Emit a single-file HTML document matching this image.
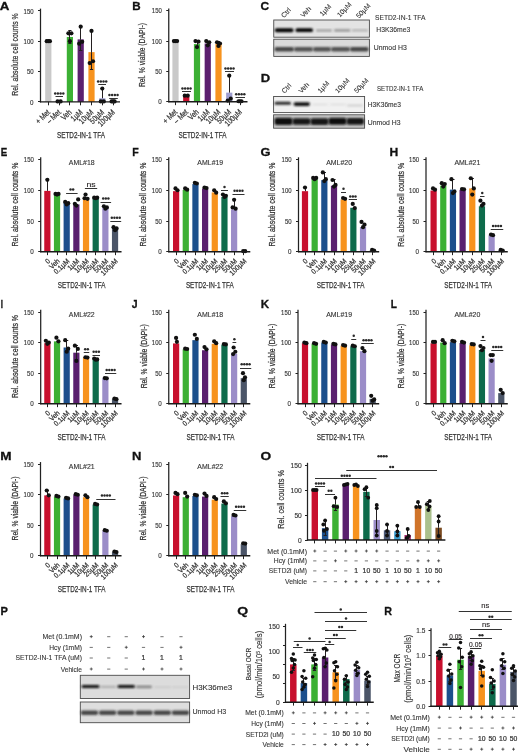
<!DOCTYPE html>
<html><head><meta charset="utf-8"><style>
html,body{margin:0;padding:0;background:#fff;width:520px;height:753px;overflow:hidden}
svg{display:block;font-family:"Liberation Sans",sans-serif;filter:blur(0.3px)}
</style></head><body>
<svg width="520" height="753" viewBox="0 0 520 753">
<defs><filter id="blur1" x="-20%" y="-50%" width="140%" height="200%"><feGaussianBlur stdDeviation="0.85"/></filter></defs>
<rect width="520" height="753" fill="#fff"/>
<text x="-0.22" y="10.40" font-size="11.4" font-weight="bold" fill="#111" stroke="#111" stroke-width="0.3" textLength="9.63" lengthAdjust="spacingAndGlyphs">A</text>
<line x1="40.50" y1="8.65" x2="40.50" y2="102.40" stroke="#222" stroke-width="1.25"/>
<line x1="38.00" y1="101.50" x2="40.50" y2="101.50" stroke="#222" stroke-width="1.0"/>
<line x1="38.00" y1="71.50" x2="40.50" y2="71.50" stroke="#222" stroke-width="1.0"/>
<line x1="38.00" y1="41.50" x2="40.50" y2="41.50" stroke="#222" stroke-width="1.0"/>
<line x1="38.00" y1="10.50" x2="40.50" y2="10.50" stroke="#222" stroke-width="1.0"/>
<text x="33.60" y="104.64" font-size="7.6" text-anchor="end" fill="#333" stroke="#333" stroke-width="0.15" textLength="3.50" lengthAdjust="spacingAndGlyphs">0</text>
<text x="33.60" y="74.29" font-size="7.6" text-anchor="end" fill="#333" stroke="#333" stroke-width="0.15" textLength="6.70" lengthAdjust="spacingAndGlyphs">50</text>
<text x="33.60" y="43.94" font-size="7.6" text-anchor="end" fill="#333" stroke="#333" stroke-width="0.15" textLength="10.00" lengthAdjust="spacingAndGlyphs">100</text>
<text x="33.60" y="13.59" font-size="7.6" text-anchor="end" fill="#333" stroke="#333" stroke-width="0.15" textLength="10.00" lengthAdjust="spacingAndGlyphs">150</text>
<text x="17.90" y="54.50" font-size="8.8" text-anchor="middle" fill="#333" stroke="#333" stroke-width="0.22" textLength="82.30" lengthAdjust="spacingAndGlyphs" transform="rotate(-90 17.90 54.50)">Rel. absolute cell counts %</text>
<rect x="45.20" y="41.20" width="6.20" height="60.70" fill="#c9c9c9"/>
<rect x="56.00" y="101.54" width="6.20" height="0.36" fill="#c8102e"/>
<rect x="66.80" y="36.95" width="6.20" height="64.95" fill="#3cb034"/>
<rect x="77.60" y="39.38" width="6.20" height="62.52" fill="#5a1f6e"/>
<rect x="88.40" y="52.13" width="6.20" height="49.77" fill="#f7931e"/>
<rect x="99.20" y="98.26" width="6.20" height="3.64" fill="#9e9ed0"/>
<rect x="110.00" y="101.60" width="6.20" height="0.30" fill="#4b5568"/>
<line x1="69.50" y1="36.95" x2="69.50" y2="30.88" stroke="#231f20" stroke-width="1.0"/>
<line x1="68.30" y1="30.50" x2="71.50" y2="30.50" stroke="#231f20" stroke-width="1.0"/>
<line x1="69.50" y1="36.95" x2="69.50" y2="43.02" stroke="#231f20" stroke-width="1.0"/>
<line x1="68.30" y1="43.50" x2="71.50" y2="43.50" stroke="#231f20" stroke-width="1.0"/>
<line x1="80.50" y1="39.38" x2="80.50" y2="26.63" stroke="#231f20" stroke-width="1.0"/>
<line x1="79.10" y1="26.50" x2="82.30" y2="26.50" stroke="#231f20" stroke-width="1.0"/>
<line x1="80.50" y1="39.38" x2="80.50" y2="50.31" stroke="#231f20" stroke-width="1.0"/>
<line x1="79.10" y1="50.50" x2="82.30" y2="50.50" stroke="#231f20" stroke-width="1.0"/>
<line x1="91.50" y1="52.13" x2="91.50" y2="30.88" stroke="#231f20" stroke-width="1.0"/>
<line x1="89.90" y1="30.50" x2="93.10" y2="30.50" stroke="#231f20" stroke-width="1.0"/>
<line x1="91.50" y1="52.13" x2="91.50" y2="69.12" stroke="#231f20" stroke-width="1.0"/>
<line x1="89.90" y1="69.50" x2="93.10" y2="69.50" stroke="#231f20" stroke-width="1.0"/>
<line x1="102.50" y1="98.26" x2="102.50" y2="88.55" stroke="#231f20" stroke-width="1.0"/>
<line x1="100.70" y1="88.50" x2="103.90" y2="88.50" stroke="#231f20" stroke-width="1.0"/>
<circle cx="46.70" cy="41.20" r="2.1" fill="#111"/>
<circle cx="48.30" cy="41.20" r="2.1" fill="#111"/>
<circle cx="49.90" cy="41.20" r="2.1" fill="#111"/>
<circle cx="57.60" cy="101.41" r="2.1" fill="#111"/>
<circle cx="60.60" cy="101.41" r="2.1" fill="#111"/>
<circle cx="68.40" cy="33.31" r="2.1" fill="#111"/>
<circle cx="71.40" cy="33.31" r="2.1" fill="#111"/>
<circle cx="69.90" cy="41.20" r="2.1" fill="#111"/>
<circle cx="80.70" cy="26.63" r="2.1" fill="#111"/>
<circle cx="79.20" cy="43.63" r="2.1" fill="#111"/>
<circle cx="82.20" cy="41.81" r="2.1" fill="#111"/>
<circle cx="91.50" cy="30.88" r="2.1" fill="#111"/>
<circle cx="89.70" cy="63.05" r="2.1" fill="#111"/>
<circle cx="93.00" cy="61.23" r="2.1" fill="#111"/>
<circle cx="102.30" cy="88.55" r="2.1" fill="#111"/>
<circle cx="100.80" cy="101.41" r="2.1" fill="#111"/>
<circle cx="103.80" cy="101.41" r="2.1" fill="#111"/>
<circle cx="111.60" cy="101.41" r="2.1" fill="#111"/>
<circle cx="113.10" cy="101.41" r="2.1" fill="#111"/>
<circle cx="114.60" cy="101.41" r="2.1" fill="#111"/>
<line x1="39.90" y1="101.90" x2="120.00" y2="101.90" stroke="#1a1a1a" stroke-width="1.4"/>
<line x1="48.50" y1="101.90" x2="48.50" y2="105.30" stroke="#222" stroke-width="1.0"/>
<line x1="59.50" y1="101.90" x2="59.50" y2="105.30" stroke="#222" stroke-width="1.0"/>
<line x1="69.50" y1="101.90" x2="69.50" y2="105.30" stroke="#222" stroke-width="1.0"/>
<line x1="80.50" y1="101.90" x2="80.50" y2="105.30" stroke="#222" stroke-width="1.0"/>
<line x1="91.50" y1="101.90" x2="91.50" y2="105.30" stroke="#222" stroke-width="1.0"/>
<line x1="102.50" y1="101.90" x2="102.50" y2="105.30" stroke="#222" stroke-width="1.0"/>
<line x1="113.50" y1="101.90" x2="113.50" y2="105.30" stroke="#222" stroke-width="1.0"/>
<text x="50.70" y="112.90" font-size="8.2" text-anchor="end" fill="#333" stroke="#333" stroke-width="0.22" textLength="16.59" lengthAdjust="spacingAndGlyphs" transform="rotate(-44 50.70 112.90)">+ Met</text>
<text x="61.50" y="112.90" font-size="8.2" text-anchor="end" fill="#333" stroke="#333" stroke-width="0.22" textLength="16.41" lengthAdjust="spacingAndGlyphs" transform="rotate(-44 61.50 112.90)">– Met</text>
<text x="72.30" y="112.90" font-size="8.2" text-anchor="end" fill="#333" stroke="#333" stroke-width="0.22" textLength="11.31" lengthAdjust="spacingAndGlyphs" transform="rotate(-44 72.30 112.90)">Veh</text>
<text x="83.10" y="112.90" font-size="8.2" text-anchor="end" fill="#333" stroke="#333" stroke-width="0.22" textLength="12.89" lengthAdjust="spacingAndGlyphs" transform="rotate(-44 83.10 112.90)">1µM</text>
<text x="93.90" y="112.90" font-size="8.2" text-anchor="end" fill="#333" stroke="#333" stroke-width="0.22" textLength="16.54" lengthAdjust="spacingAndGlyphs" transform="rotate(-44 93.90 112.90)">10µM</text>
<text x="104.70" y="112.90" font-size="8.2" text-anchor="end" fill="#333" stroke="#333" stroke-width="0.22" textLength="16.54" lengthAdjust="spacingAndGlyphs" transform="rotate(-44 104.70 112.90)">50µM</text>
<text x="115.50" y="112.90" font-size="8.2" text-anchor="end" fill="#333" stroke="#333" stroke-width="0.22" textLength="20.19" lengthAdjust="spacingAndGlyphs" transform="rotate(-44 115.50 112.90)">100µM</text>
<text x="80.95" y="138.00" font-size="9.1" text-anchor="middle" fill="#333" stroke="#333" stroke-width="0.25" textLength="48.10" lengthAdjust="spacingAndGlyphs">SETD2-IN-1 TFA</text>
<line x1="55.50" y1="96.50" x2="63.00" y2="96.50" stroke="#333" stroke-width="1.0"/>
<circle cx="55.20" cy="93.50" r="1.25" fill="#2a2a2a"/>
<circle cx="57.90" cy="93.50" r="1.25" fill="#2a2a2a"/>
<circle cx="60.60" cy="93.50" r="1.25" fill="#2a2a2a"/>
<circle cx="63.30" cy="93.50" r="1.25" fill="#2a2a2a"/>
<line x1="98.30" y1="84.50" x2="106.00" y2="84.50" stroke="#333" stroke-width="1.0"/>
<circle cx="98.10" cy="81.50" r="1.25" fill="#2a2a2a"/>
<circle cx="100.80" cy="81.50" r="1.25" fill="#2a2a2a"/>
<circle cx="103.50" cy="81.50" r="1.25" fill="#2a2a2a"/>
<circle cx="106.20" cy="81.50" r="1.25" fill="#2a2a2a"/>
<line x1="109.20" y1="98.50" x2="117.80" y2="98.50" stroke="#333" stroke-width="1.0"/>
<circle cx="109.45" cy="94.90" r="1.25" fill="#2a2a2a"/>
<circle cx="112.15" cy="94.90" r="1.25" fill="#2a2a2a"/>
<circle cx="114.85" cy="94.90" r="1.25" fill="#2a2a2a"/>
<circle cx="117.55" cy="94.90" r="1.25" fill="#2a2a2a"/>
<text x="132.15" y="10.40" font-size="11.4" font-weight="bold" fill="#111" stroke="#111" stroke-width="0.3" textLength="8.40" lengthAdjust="spacingAndGlyphs">B</text>
<line x1="168.75" y1="8.50" x2="168.75" y2="102.25" stroke="#222" stroke-width="1.25"/>
<line x1="166.25" y1="101.50" x2="168.75" y2="101.50" stroke="#222" stroke-width="1.0"/>
<line x1="166.25" y1="71.50" x2="168.75" y2="71.50" stroke="#222" stroke-width="1.0"/>
<line x1="166.25" y1="41.50" x2="168.75" y2="41.50" stroke="#222" stroke-width="1.0"/>
<line x1="166.25" y1="10.50" x2="168.75" y2="10.50" stroke="#222" stroke-width="1.0"/>
<text x="161.85" y="104.49" font-size="7.6" text-anchor="end" fill="#333" stroke="#333" stroke-width="0.15" textLength="3.50" lengthAdjust="spacingAndGlyphs">0</text>
<text x="161.85" y="74.14" font-size="7.6" text-anchor="end" fill="#333" stroke="#333" stroke-width="0.15" textLength="6.70" lengthAdjust="spacingAndGlyphs">50</text>
<text x="161.85" y="43.79" font-size="7.6" text-anchor="end" fill="#333" stroke="#333" stroke-width="0.15" textLength="10.00" lengthAdjust="spacingAndGlyphs">100</text>
<text x="161.85" y="13.44" font-size="7.6" text-anchor="end" fill="#333" stroke="#333" stroke-width="0.15" textLength="10.00" lengthAdjust="spacingAndGlyphs">150</text>
<text x="145.44" y="55.10" font-size="8.6" text-anchor="middle" fill="#333" stroke="#333" stroke-width="0.22" textLength="64.00" lengthAdjust="spacingAndGlyphs" transform="rotate(-90 145.44 55.10)">Rel. % viable (DAPI-)</text>
<rect x="172.40" y="41.05" width="6.20" height="60.70" fill="#c9c9c9"/>
<rect x="183.15" y="96.89" width="6.20" height="4.86" fill="#c8102e"/>
<rect x="193.90" y="44.09" width="6.20" height="57.66" fill="#3cb034"/>
<rect x="204.65" y="43.48" width="6.20" height="58.27" fill="#5a1f6e"/>
<rect x="215.40" y="44.09" width="6.20" height="57.66" fill="#f7931e"/>
<rect x="226.15" y="92.64" width="6.20" height="9.11" fill="#9e9ed0"/>
<rect x="236.90" y="101.45" width="6.20" height="0.30" fill="#4b5568"/>
<line x1="197.50" y1="44.09" x2="197.50" y2="41.05" stroke="#231f20" stroke-width="1.0"/>
<line x1="195.40" y1="41.50" x2="198.60" y2="41.50" stroke="#231f20" stroke-width="1.0"/>
<line x1="197.50" y1="44.09" x2="197.50" y2="47.12" stroke="#231f20" stroke-width="1.0"/>
<line x1="195.40" y1="47.50" x2="198.60" y2="47.50" stroke="#231f20" stroke-width="1.0"/>
<line x1="207.50" y1="43.48" x2="207.50" y2="41.05" stroke="#231f20" stroke-width="1.0"/>
<line x1="206.15" y1="41.50" x2="209.35" y2="41.50" stroke="#231f20" stroke-width="1.0"/>
<line x1="207.50" y1="43.48" x2="207.50" y2="45.91" stroke="#231f20" stroke-width="1.0"/>
<line x1="206.15" y1="45.50" x2="209.35" y2="45.50" stroke="#231f20" stroke-width="1.0"/>
<line x1="218.50" y1="44.09" x2="218.50" y2="41.66" stroke="#231f20" stroke-width="1.0"/>
<line x1="216.90" y1="41.50" x2="220.10" y2="41.50" stroke="#231f20" stroke-width="1.0"/>
<line x1="218.50" y1="44.09" x2="218.50" y2="46.51" stroke="#231f20" stroke-width="1.0"/>
<line x1="216.90" y1="46.50" x2="220.10" y2="46.50" stroke="#231f20" stroke-width="1.0"/>
<line x1="229.50" y1="92.64" x2="229.50" y2="75.65" stroke="#231f20" stroke-width="1.0"/>
<line x1="227.65" y1="75.50" x2="230.85" y2="75.50" stroke="#231f20" stroke-width="1.0"/>
<circle cx="173.90" cy="41.05" r="2.1" fill="#111"/>
<circle cx="175.50" cy="41.05" r="2.1" fill="#111"/>
<circle cx="177.10" cy="41.05" r="2.1" fill="#111"/>
<circle cx="184.75" cy="95.68" r="2.1" fill="#111"/>
<circle cx="187.75" cy="95.68" r="2.1" fill="#111"/>
<circle cx="195.50" cy="41.05" r="2.1" fill="#111"/>
<circle cx="198.50" cy="41.66" r="2.1" fill="#111"/>
<circle cx="197.00" cy="47.12" r="2.1" fill="#111"/>
<circle cx="206.25" cy="41.05" r="2.1" fill="#111"/>
<circle cx="209.25" cy="42.26" r="2.1" fill="#111"/>
<circle cx="207.75" cy="45.30" r="2.1" fill="#111"/>
<circle cx="217.00" cy="42.26" r="2.1" fill="#111"/>
<circle cx="220.00" cy="43.48" r="2.1" fill="#111"/>
<circle cx="218.50" cy="45.91" r="2.1" fill="#111"/>
<circle cx="229.25" cy="75.65" r="2.1" fill="#111"/>
<circle cx="227.75" cy="100.54" r="2.1" fill="#111"/>
<circle cx="230.75" cy="98.72" r="2.1" fill="#111"/>
<circle cx="238.50" cy="101.26" r="2.1" fill="#111"/>
<circle cx="240.00" cy="101.26" r="2.1" fill="#111"/>
<circle cx="241.50" cy="101.26" r="2.1" fill="#111"/>
<line x1="168.15" y1="101.75" x2="247.50" y2="101.75" stroke="#1a1a1a" stroke-width="1.4"/>
<line x1="175.50" y1="101.75" x2="175.50" y2="105.15" stroke="#222" stroke-width="1.0"/>
<line x1="186.50" y1="101.75" x2="186.50" y2="105.15" stroke="#222" stroke-width="1.0"/>
<line x1="197.50" y1="101.75" x2="197.50" y2="105.15" stroke="#222" stroke-width="1.0"/>
<line x1="207.50" y1="101.75" x2="207.50" y2="105.15" stroke="#222" stroke-width="1.0"/>
<line x1="218.50" y1="101.75" x2="218.50" y2="105.15" stroke="#222" stroke-width="1.0"/>
<line x1="229.50" y1="101.75" x2="229.50" y2="105.15" stroke="#222" stroke-width="1.0"/>
<line x1="240.50" y1="101.75" x2="240.50" y2="105.15" stroke="#222" stroke-width="1.0"/>
<text x="177.90" y="112.75" font-size="8.2" text-anchor="end" fill="#333" stroke="#333" stroke-width="0.22" textLength="16.59" lengthAdjust="spacingAndGlyphs" transform="rotate(-44 177.90 112.75)">+ Met</text>
<text x="188.65" y="112.75" font-size="8.2" text-anchor="end" fill="#333" stroke="#333" stroke-width="0.22" textLength="16.41" lengthAdjust="spacingAndGlyphs" transform="rotate(-44 188.65 112.75)">– Met</text>
<text x="199.40" y="112.75" font-size="8.2" text-anchor="end" fill="#333" stroke="#333" stroke-width="0.22" textLength="11.31" lengthAdjust="spacingAndGlyphs" transform="rotate(-44 199.40 112.75)">Veh</text>
<text x="210.15" y="112.75" font-size="8.2" text-anchor="end" fill="#333" stroke="#333" stroke-width="0.22" textLength="12.89" lengthAdjust="spacingAndGlyphs" transform="rotate(-44 210.15 112.75)">1µM</text>
<text x="220.90" y="112.75" font-size="8.2" text-anchor="end" fill="#333" stroke="#333" stroke-width="0.22" textLength="16.54" lengthAdjust="spacingAndGlyphs" transform="rotate(-44 220.90 112.75)">10µM</text>
<text x="231.65" y="112.75" font-size="8.2" text-anchor="end" fill="#333" stroke="#333" stroke-width="0.22" textLength="16.54" lengthAdjust="spacingAndGlyphs" transform="rotate(-44 231.65 112.75)">50µM</text>
<text x="242.40" y="112.75" font-size="8.2" text-anchor="end" fill="#333" stroke="#333" stroke-width="0.22" textLength="20.19" lengthAdjust="spacingAndGlyphs" transform="rotate(-44 242.40 112.75)">100µM</text>
<text x="202.50" y="138.00" font-size="9.1" text-anchor="middle" fill="#333" stroke="#333" stroke-width="0.25" textLength="48.10" lengthAdjust="spacingAndGlyphs">SETD2-IN-1 TFA</text>
<line x1="182.00" y1="91.50" x2="191.00" y2="91.50" stroke="#333" stroke-width="1.0"/>
<circle cx="182.45" cy="88.50" r="1.25" fill="#2a2a2a"/>
<circle cx="185.15" cy="88.50" r="1.25" fill="#2a2a2a"/>
<circle cx="187.85" cy="88.50" r="1.25" fill="#2a2a2a"/>
<circle cx="190.55" cy="88.50" r="1.25" fill="#2a2a2a"/>
<line x1="225.00" y1="71.50" x2="234.00" y2="71.50" stroke="#333" stroke-width="1.0"/>
<circle cx="225.45" cy="68.50" r="1.25" fill="#2a2a2a"/>
<circle cx="228.15" cy="68.50" r="1.25" fill="#2a2a2a"/>
<circle cx="230.85" cy="68.50" r="1.25" fill="#2a2a2a"/>
<circle cx="233.55" cy="68.50" r="1.25" fill="#2a2a2a"/>
<line x1="235.50" y1="97.50" x2="245.00" y2="97.50" stroke="#333" stroke-width="1.0"/>
<circle cx="236.20" cy="94.20" r="1.25" fill="#2a2a2a"/>
<circle cx="238.90" cy="94.20" r="1.25" fill="#2a2a2a"/>
<circle cx="241.60" cy="94.20" r="1.25" fill="#2a2a2a"/>
<circle cx="244.30" cy="94.20" r="1.25" fill="#2a2a2a"/>
<text x="260.64" y="10.40" font-size="11.4" font-weight="bold" fill="#111" stroke="#111" stroke-width="0.3" textLength="8.62" lengthAdjust="spacingAndGlyphs">C</text>
<rect x="273.75" y="20.00" width="95.65" height="17.20" fill="#e3e3e3" stroke="#4a4a4a" stroke-width="0.9"/>
<rect x="274.80" y="28.25" width="18.70" height="3.90" rx="1.95" fill="#000" fill-opacity="1" filter="url(#blur1)"/>
<rect x="295.50" y="28.35" width="17.50" height="3.70" rx="1.85" fill="#050505" fill-opacity="1" filter="url(#blur1)"/>
<rect x="316.00" y="29.30" width="16.00" height="2.40" rx="1.20" fill="#777" fill-opacity="0.6" filter="url(#blur1)"/>
<rect x="334.00" y="29.10" width="16.50" height="2.60" rx="1.30" fill="#777" fill-opacity="0.65" filter="url(#blur1)"/>
<rect x="352.00" y="29.20" width="16.00" height="2.40" rx="1.20" fill="#888" fill-opacity="0.55" filter="url(#blur1)"/>
<rect x="273.75" y="39.20" width="95.65" height="17.20" fill="#dadada" stroke="#4a4a4a" stroke-width="0.9"/>
<rect x="274.50" y="46.90" width="19.50" height="4.60" rx="2.00" fill="#333" fill-opacity="0.9" filter="url(#blur1)"/>
<rect x="294.00" y="47.10" width="19.00" height="4.40" rx="2.00" fill="#3a3a3a" fill-opacity="0.85" filter="url(#blur1)"/>
<rect x="313.00" y="47.10" width="18.00" height="4.40" rx="2.00" fill="#3a3a3a" fill-opacity="0.85" filter="url(#blur1)"/>
<rect x="331.00" y="47.10" width="19.00" height="4.40" rx="2.00" fill="#3a3a3a" fill-opacity="0.85" filter="url(#blur1)"/>
<rect x="350.00" y="47.00" width="18.60" height="4.60" rx="2.00" fill="#333" fill-opacity="0.9" filter="url(#blur1)"/>
<text x="284.00" y="18.30" font-size="6.9" text-anchor="start" fill="#333" stroke="#333" stroke-width="0.08" transform="rotate(-47 284.00 18.30)">Ctrl</text>
<text x="303.50" y="18.00" font-size="6.9" text-anchor="start" fill="#333" stroke="#333" stroke-width="0.08" transform="rotate(-47 303.50 18.00)">Veh</text>
<text x="322.50" y="16.60" font-size="6.9" text-anchor="start" fill="#333" stroke="#333" stroke-width="0.08" transform="rotate(-47 322.50 16.60)">1µM</text>
<text x="340.00" y="17.60" font-size="6.9" text-anchor="start" fill="#333" stroke="#333" stroke-width="0.08" transform="rotate(-47 340.00 17.60)">10µM</text>
<text x="359.00" y="18.80" font-size="6.9" text-anchor="start" fill="#333" stroke="#333" stroke-width="0.08" transform="rotate(-47 359.00 18.80)">50µM</text>
<text x="375.00" y="19.70" font-size="7.0" text-anchor="start" fill="#333" stroke="#333" stroke-width="0.1" textLength="50.40" lengthAdjust="spacingAndGlyphs">SETD2-IN-1 TFA</text>
<text x="376.30" y="31.60" font-size="7.0" text-anchor="start" fill="#333" stroke="#333" stroke-width="0.1" textLength="34.00" lengthAdjust="spacingAndGlyphs">H3K36me3</text>
<text x="373.80" y="49.60" font-size="7.0" text-anchor="start" fill="#333" stroke="#333" stroke-width="0.1" textLength="33.00" lengthAdjust="spacingAndGlyphs">Unmod H3</text>
<text x="260.80" y="82.40" font-size="11.4" font-weight="bold" fill="#111" stroke="#111" stroke-width="0.3" textLength="9.41" lengthAdjust="spacingAndGlyphs">D</text>
<rect x="273.60" y="96.50" width="91.00" height="16.10" fill="#f1f1f1" stroke="#4a4a4a" stroke-width="0.9"/>
<rect x="274.50" y="101.70" width="16.50" height="3.00" rx="1.50" fill="#1a1a1a" fill-opacity="0.95" filter="url(#blur1)"/>
<rect x="293.50" y="102.30" width="16.50" height="3.60" rx="1.80" fill="#111" fill-opacity="1" filter="url(#blur1)"/>
<rect x="312.00" y="103.40" width="16.00" height="2.20" rx="1.10" fill="#bbb" fill-opacity="0.3" filter="url(#blur1)"/>
<rect x="330.00" y="103.40" width="16.00" height="2.20" rx="1.10" fill="#bbb" fill-opacity="0.3" filter="url(#blur1)"/>
<rect x="347.00" y="104.20" width="16.00" height="2.60" rx="1.30" fill="#aaa" fill-opacity="0.4" filter="url(#blur1)"/>
<rect x="273.60" y="114.80" width="91.00" height="13.40" fill="#c8c8c8" stroke="#4a4a4a" stroke-width="0.9"/>
<rect x="274.50" y="117.70" width="18.00" height="7.20" rx="2.00" fill="#111" fill-opacity="1" filter="url(#blur1)"/>
<rect x="292.50" y="118.20" width="18.00" height="6.60" rx="2.00" fill="#161616" fill-opacity="1" filter="url(#blur1)"/>
<rect x="310.50" y="118.30" width="18.00" height="6.60" rx="2.00" fill="#161616" fill-opacity="1" filter="url(#blur1)"/>
<rect x="328.50" y="117.80" width="18.00" height="7.00" rx="2.00" fill="#111" fill-opacity="1" filter="url(#blur1)"/>
<rect x="346.50" y="118.00" width="17.50" height="6.80" rx="2.00" fill="#141414" fill-opacity="1" filter="url(#blur1)"/>
<text x="284.50" y="93.80" font-size="6.9" text-anchor="start" fill="#333" stroke="#333" stroke-width="0.08" transform="rotate(-47 284.50 93.80)">Ctrl</text>
<text x="301.50" y="93.80" font-size="6.9" text-anchor="start" fill="#333" stroke="#333" stroke-width="0.08" transform="rotate(-47 301.50 93.80)">Veh</text>
<text x="320.50" y="93.50" font-size="6.9" text-anchor="start" fill="#333" stroke="#333" stroke-width="0.08" transform="rotate(-47 320.50 93.50)">1µM</text>
<text x="338.00" y="93.50" font-size="6.9" text-anchor="start" fill="#333" stroke="#333" stroke-width="0.08" transform="rotate(-47 338.00 93.50)">10µM</text>
<text x="357.00" y="93.50" font-size="6.9" text-anchor="start" fill="#333" stroke="#333" stroke-width="0.08" transform="rotate(-47 357.00 93.50)">50µM</text>
<text x="377.00" y="91.00" font-size="7.0" text-anchor="start" fill="#333" stroke="#333" stroke-width="0.1" textLength="46.40" lengthAdjust="spacingAndGlyphs">SETD2-IN-1 TFA</text>
<text x="367.80" y="107.40" font-size="7.0" text-anchor="start" fill="#333" stroke="#333" stroke-width="0.1" textLength="33.20" lengthAdjust="spacingAndGlyphs">H3K36me3</text>
<text x="367.80" y="125.30" font-size="7.0" text-anchor="start" fill="#333" stroke="#333" stroke-width="0.1" textLength="32.70" lengthAdjust="spacingAndGlyphs">Unmod H3</text>
<text x="0.80" y="156.10" font-size="11.4" font-weight="bold" fill="#111" stroke="#111" stroke-width="0.3" textLength="6.50" lengthAdjust="spacingAndGlyphs">E</text>
<line x1="40.70" y1="157.30" x2="40.70" y2="252.25" stroke="#222" stroke-width="1.25"/>
<line x1="38.20" y1="251.50" x2="40.70" y2="251.50" stroke="#222" stroke-width="1.0"/>
<line x1="38.20" y1="221.50" x2="40.70" y2="221.50" stroke="#222" stroke-width="1.0"/>
<line x1="38.20" y1="190.50" x2="40.70" y2="190.50" stroke="#222" stroke-width="1.0"/>
<line x1="38.20" y1="159.50" x2="40.70" y2="159.50" stroke="#222" stroke-width="1.0"/>
<text x="33.80" y="254.49" font-size="7.6" text-anchor="end" fill="#333" stroke="#333" stroke-width="0.15" textLength="3.50" lengthAdjust="spacingAndGlyphs">0</text>
<text x="33.80" y="223.74" font-size="7.6" text-anchor="end" fill="#333" stroke="#333" stroke-width="0.15" textLength="6.70" lengthAdjust="spacingAndGlyphs">50</text>
<text x="33.80" y="192.99" font-size="7.6" text-anchor="end" fill="#333" stroke="#333" stroke-width="0.15" textLength="10.00" lengthAdjust="spacingAndGlyphs">100</text>
<text x="33.80" y="162.24" font-size="7.6" text-anchor="end" fill="#333" stroke="#333" stroke-width="0.15" textLength="10.00" lengthAdjust="spacingAndGlyphs">150</text>
<text x="17.64" y="204.50" font-size="9.2" text-anchor="middle" fill="#333" stroke="#333" stroke-width="0.25" textLength="84.00" lengthAdjust="spacingAndGlyphs" transform="rotate(-90 17.64 204.50)">Rel. absolute cell counts %</text>
<rect x="44.25" y="190.87" width="6.20" height="60.88" fill="#c8102e"/>
<rect x="53.92" y="194.19" width="6.20" height="57.56" fill="#3cb034"/>
<rect x="63.59" y="201.94" width="6.20" height="49.81" fill="#1c4f8c"/>
<rect x="73.26" y="204.40" width="6.20" height="47.35" fill="#5a1f6e"/>
<rect x="82.93" y="199.47" width="6.20" height="52.27" fill="#f7931e"/>
<rect x="92.60" y="197.81" width="6.20" height="53.94" fill="#0e6b4b"/>
<rect x="102.27" y="207.59" width="6.20" height="44.16" fill="#9b8dc8"/>
<rect x="111.94" y="227.15" width="6.20" height="24.60" fill="#4b5568"/>
<line x1="47.50" y1="190.87" x2="47.50" y2="179.80" stroke="#231f20" stroke-width="1.0"/>
<line x1="45.75" y1="179.50" x2="48.95" y2="179.50" stroke="#231f20" stroke-width="1.0"/>
<circle cx="47.35" cy="179.80" r="2.1" fill="#111"/>
<circle cx="55.52" cy="193.94" r="2.1" fill="#111"/>
<circle cx="58.52" cy="193.94" r="2.1" fill="#111"/>
<circle cx="57.02" cy="194.56" r="2.1" fill="#111"/>
<circle cx="65.19" cy="201.94" r="2.1" fill="#111"/>
<circle cx="68.19" cy="203.16" r="2.1" fill="#111"/>
<circle cx="66.69" cy="204.40" r="2.1" fill="#111"/>
<circle cx="78.16" cy="199.47" r="2.1" fill="#111"/>
<circle cx="74.86" cy="203.78" r="2.1" fill="#111"/>
<circle cx="76.36" cy="205.62" r="2.1" fill="#111"/>
<circle cx="85.53" cy="194.56" r="2.1" fill="#111"/>
<circle cx="84.53" cy="198.25" r="2.1" fill="#111"/>
<circle cx="87.53" cy="198.86" r="2.1" fill="#111"/>
<circle cx="94.20" cy="197.63" r="2.1" fill="#111"/>
<circle cx="97.20" cy="197.63" r="2.1" fill="#111"/>
<circle cx="95.70" cy="198.25" r="2.1" fill="#111"/>
<circle cx="103.87" cy="206.24" r="2.1" fill="#111"/>
<circle cx="106.87" cy="207.47" r="2.1" fill="#111"/>
<circle cx="105.37" cy="208.70" r="2.1" fill="#111"/>
<circle cx="113.54" cy="227.15" r="2.1" fill="#111"/>
<circle cx="116.54" cy="228.38" r="2.1" fill="#111"/>
<circle cx="115.04" cy="230.22" r="2.1" fill="#111"/>
<line x1="40.10" y1="251.75" x2="121.54" y2="251.75" stroke="#1a1a1a" stroke-width="1.4"/>
<line x1="47.50" y1="251.75" x2="47.50" y2="255.15" stroke="#222" stroke-width="1.0"/>
<line x1="57.50" y1="251.75" x2="57.50" y2="255.15" stroke="#222" stroke-width="1.0"/>
<line x1="66.50" y1="251.75" x2="66.50" y2="255.15" stroke="#222" stroke-width="1.0"/>
<line x1="76.50" y1="251.75" x2="76.50" y2="255.15" stroke="#222" stroke-width="1.0"/>
<line x1="86.50" y1="251.75" x2="86.50" y2="255.15" stroke="#222" stroke-width="1.0"/>
<line x1="95.50" y1="251.75" x2="95.50" y2="255.15" stroke="#222" stroke-width="1.0"/>
<line x1="105.50" y1="251.75" x2="105.50" y2="255.15" stroke="#222" stroke-width="1.0"/>
<line x1="115.50" y1="251.75" x2="115.50" y2="255.15" stroke="#222" stroke-width="1.0"/>
<text x="50.65" y="261.55" font-size="7.3" text-anchor="end" fill="#333" stroke="#333" stroke-width="0.22" textLength="3.73" lengthAdjust="spacingAndGlyphs" transform="rotate(-44 50.65 261.55)">0</text>
<text x="60.32" y="261.55" font-size="7.3" text-anchor="end" fill="#333" stroke="#333" stroke-width="0.22" textLength="11.58" lengthAdjust="spacingAndGlyphs" transform="rotate(-44 60.32 261.55)">Veh</text>
<text x="69.99" y="261.55" font-size="7.3" text-anchor="end" fill="#333" stroke="#333" stroke-width="0.22" textLength="18.80" lengthAdjust="spacingAndGlyphs" transform="rotate(-44 69.99 261.55)">0.1µM</text>
<text x="79.66" y="261.55" font-size="7.3" text-anchor="end" fill="#333" stroke="#333" stroke-width="0.22" textLength="13.20" lengthAdjust="spacingAndGlyphs" transform="rotate(-44 79.66 261.55)">1µM</text>
<text x="89.33" y="261.55" font-size="7.3" text-anchor="end" fill="#333" stroke="#333" stroke-width="0.22" textLength="16.93" lengthAdjust="spacingAndGlyphs" transform="rotate(-44 89.33 261.55)">10µM</text>
<text x="99.00" y="261.55" font-size="7.3" text-anchor="end" fill="#333" stroke="#333" stroke-width="0.22" textLength="16.93" lengthAdjust="spacingAndGlyphs" transform="rotate(-44 99.00 261.55)">25µM</text>
<text x="108.67" y="261.55" font-size="7.3" text-anchor="end" fill="#333" stroke="#333" stroke-width="0.22" textLength="16.93" lengthAdjust="spacingAndGlyphs" transform="rotate(-44 108.67 261.55)">50µM</text>
<text x="118.34" y="261.55" font-size="7.3" text-anchor="end" fill="#333" stroke="#333" stroke-width="0.22" textLength="20.67" lengthAdjust="spacingAndGlyphs" transform="rotate(-44 118.34 261.55)">100µM</text>
<text x="81.70" y="164.80" font-size="7.0" text-anchor="middle" fill="#333" stroke="#333" stroke-width="0.12" textLength="25.90" lengthAdjust="spacingAndGlyphs">AML#18</text>
<text x="81.70" y="288.10" font-size="9.1" text-anchor="middle" fill="#333" stroke="#333" stroke-width="0.25" textLength="47.80" lengthAdjust="spacingAndGlyphs">SETD2-IN-1 TFA</text>
<line x1="66.10" y1="193.50" x2="77.60" y2="193.50" stroke="#333" stroke-width="1.0"/>
<circle cx="70.55" cy="189.60" r="1.25" fill="#2a2a2a"/>
<circle cx="73.15" cy="189.60" r="1.25" fill="#2a2a2a"/>
<line x1="84.90" y1="188.50" x2="97.20" y2="188.50" stroke="#333" stroke-width="1.0"/>
<text x="91.05" y="186.57" font-size="7.2" text-anchor="middle" fill="#231f20" stroke="#231f20" stroke-width="0.12" textLength="9.20" lengthAdjust="spacingAndGlyphs">ns</text>
<line x1="100.50" y1="202.50" x2="111.10" y2="202.50" stroke="#333" stroke-width="1.0"/>
<circle cx="103.20" cy="198.60" r="1.25" fill="#2a2a2a"/>
<circle cx="105.80" cy="198.60" r="1.25" fill="#2a2a2a"/>
<circle cx="108.40" cy="198.60" r="1.25" fill="#2a2a2a"/>
<line x1="110.30" y1="221.50" x2="121.20" y2="221.50" stroke="#333" stroke-width="1.0"/>
<circle cx="111.81" cy="217.70" r="1.25" fill="#2a2a2a"/>
<circle cx="114.44" cy="217.70" r="1.25" fill="#2a2a2a"/>
<circle cx="117.06" cy="217.70" r="1.25" fill="#2a2a2a"/>
<circle cx="119.69" cy="217.70" r="1.25" fill="#2a2a2a"/>
<text x="132.15" y="156.10" font-size="11.4" font-weight="bold" fill="#111" stroke="#111" stroke-width="0.3" textLength="6.50" lengthAdjust="spacingAndGlyphs">F</text>
<line x1="168.75" y1="157.30" x2="168.75" y2="252.25" stroke="#222" stroke-width="1.25"/>
<line x1="166.25" y1="251.50" x2="168.75" y2="251.50" stroke="#222" stroke-width="1.0"/>
<line x1="166.25" y1="221.50" x2="168.75" y2="221.50" stroke="#222" stroke-width="1.0"/>
<line x1="166.25" y1="190.50" x2="168.75" y2="190.50" stroke="#222" stroke-width="1.0"/>
<line x1="166.25" y1="159.50" x2="168.75" y2="159.50" stroke="#222" stroke-width="1.0"/>
<text x="161.85" y="254.49" font-size="7.6" text-anchor="end" fill="#333" stroke="#333" stroke-width="0.15" textLength="3.50" lengthAdjust="spacingAndGlyphs">0</text>
<text x="161.85" y="223.74" font-size="7.6" text-anchor="end" fill="#333" stroke="#333" stroke-width="0.15" textLength="6.70" lengthAdjust="spacingAndGlyphs">50</text>
<text x="161.85" y="192.99" font-size="7.6" text-anchor="end" fill="#333" stroke="#333" stroke-width="0.15" textLength="10.00" lengthAdjust="spacingAndGlyphs">100</text>
<text x="161.85" y="162.24" font-size="7.6" text-anchor="end" fill="#333" stroke="#333" stroke-width="0.15" textLength="10.00" lengthAdjust="spacingAndGlyphs">150</text>
<text x="145.84" y="204.50" font-size="9.2" text-anchor="middle" fill="#333" stroke="#333" stroke-width="0.25" textLength="84.00" lengthAdjust="spacingAndGlyphs" transform="rotate(-90 145.84 204.50)">Rel. absolute cell counts %</text>
<rect x="173.00" y="191.17" width="6.20" height="60.58" fill="#c8102e"/>
<rect x="182.67" y="189.94" width="6.20" height="61.81" fill="#3cb034"/>
<rect x="192.34" y="184.10" width="6.20" height="67.65" fill="#1c4f8c"/>
<rect x="202.01" y="188.41" width="6.20" height="63.34" fill="#5a1f6e"/>
<rect x="211.68" y="192.40" width="6.20" height="59.35" fill="#f7931e"/>
<rect x="221.35" y="197.01" width="6.20" height="54.73" fill="#0e6b4b"/>
<rect x="231.02" y="209.31" width="6.20" height="42.44" fill="#9b8dc8"/>
<rect x="240.69" y="251.44" width="6.20" height="0.31" fill="#4b5568"/>
<line x1="234.50" y1="209.31" x2="234.50" y2="199.78" stroke="#231f20" stroke-width="1.0"/>
<line x1="232.52" y1="199.50" x2="235.72" y2="199.50" stroke="#231f20" stroke-width="1.0"/>
<circle cx="175.50" cy="188.41" r="2.1" fill="#111"/>
<circle cx="177.50" cy="190.25" r="2.1" fill="#111"/>
<circle cx="185.17" cy="188.41" r="2.1" fill="#111"/>
<circle cx="187.17" cy="189.63" r="2.1" fill="#111"/>
<circle cx="194.84" cy="182.87" r="2.1" fill="#111"/>
<circle cx="196.84" cy="183.49" r="2.1" fill="#111"/>
<circle cx="204.51" cy="187.48" r="2.1" fill="#111"/>
<circle cx="206.51" cy="188.10" r="2.1" fill="#111"/>
<circle cx="214.18" cy="190.25" r="2.1" fill="#111"/>
<circle cx="216.18" cy="192.71" r="2.1" fill="#111"/>
<circle cx="222.95" cy="194.56" r="2.1" fill="#111"/>
<circle cx="225.95" cy="195.78" r="2.1" fill="#111"/>
<circle cx="224.45" cy="197.01" r="2.1" fill="#111"/>
<circle cx="234.12" cy="199.78" r="2.1" fill="#111"/>
<circle cx="232.62" cy="207.47" r="2.1" fill="#111"/>
<circle cx="235.62" cy="208.70" r="2.1" fill="#111"/>
<circle cx="243.19" cy="251.13" r="2.1" fill="#111"/>
<circle cx="245.19" cy="251.13" r="2.1" fill="#111"/>
<line x1="168.15" y1="251.75" x2="250.29" y2="251.75" stroke="#1a1a1a" stroke-width="1.4"/>
<line x1="176.50" y1="251.75" x2="176.50" y2="255.15" stroke="#222" stroke-width="1.0"/>
<line x1="185.50" y1="251.75" x2="185.50" y2="255.15" stroke="#222" stroke-width="1.0"/>
<line x1="195.50" y1="251.75" x2="195.50" y2="255.15" stroke="#222" stroke-width="1.0"/>
<line x1="205.50" y1="251.75" x2="205.50" y2="255.15" stroke="#222" stroke-width="1.0"/>
<line x1="214.50" y1="251.75" x2="214.50" y2="255.15" stroke="#222" stroke-width="1.0"/>
<line x1="224.50" y1="251.75" x2="224.50" y2="255.15" stroke="#222" stroke-width="1.0"/>
<line x1="234.50" y1="251.75" x2="234.50" y2="255.15" stroke="#222" stroke-width="1.0"/>
<line x1="243.50" y1="251.75" x2="243.50" y2="255.15" stroke="#222" stroke-width="1.0"/>
<text x="179.40" y="261.55" font-size="7.3" text-anchor="end" fill="#333" stroke="#333" stroke-width="0.22" textLength="3.73" lengthAdjust="spacingAndGlyphs" transform="rotate(-44 179.40 261.55)">0</text>
<text x="189.07" y="261.55" font-size="7.3" text-anchor="end" fill="#333" stroke="#333" stroke-width="0.22" textLength="11.58" lengthAdjust="spacingAndGlyphs" transform="rotate(-44 189.07 261.55)">Veh</text>
<text x="198.74" y="261.55" font-size="7.3" text-anchor="end" fill="#333" stroke="#333" stroke-width="0.22" textLength="18.80" lengthAdjust="spacingAndGlyphs" transform="rotate(-44 198.74 261.55)">0.1µM</text>
<text x="208.41" y="261.55" font-size="7.3" text-anchor="end" fill="#333" stroke="#333" stroke-width="0.22" textLength="13.20" lengthAdjust="spacingAndGlyphs" transform="rotate(-44 208.41 261.55)">1µM</text>
<text x="218.08" y="261.55" font-size="7.3" text-anchor="end" fill="#333" stroke="#333" stroke-width="0.22" textLength="16.93" lengthAdjust="spacingAndGlyphs" transform="rotate(-44 218.08 261.55)">10µM</text>
<text x="227.75" y="261.55" font-size="7.3" text-anchor="end" fill="#333" stroke="#333" stroke-width="0.22" textLength="16.93" lengthAdjust="spacingAndGlyphs" transform="rotate(-44 227.75 261.55)">25µM</text>
<text x="237.42" y="261.55" font-size="7.3" text-anchor="end" fill="#333" stroke="#333" stroke-width="0.22" textLength="16.93" lengthAdjust="spacingAndGlyphs" transform="rotate(-44 237.42 261.55)">50µM</text>
<text x="247.09" y="261.55" font-size="7.3" text-anchor="end" fill="#333" stroke="#333" stroke-width="0.22" textLength="20.67" lengthAdjust="spacingAndGlyphs" transform="rotate(-44 247.09 261.55)">100µM</text>
<text x="210.30" y="164.80" font-size="7.0" text-anchor="middle" fill="#333" stroke="#333" stroke-width="0.12" textLength="25.90" lengthAdjust="spacingAndGlyphs">AML#19</text>
<text x="209.80" y="288.10" font-size="9.1" text-anchor="middle" fill="#333" stroke="#333" stroke-width="0.25" textLength="47.80" lengthAdjust="spacingAndGlyphs">SETD2-IN-1 TFA</text>
<line x1="221.00" y1="190.50" x2="228.00" y2="190.50" stroke="#333" stroke-width="1.0"/>
<circle cx="224.50" cy="187.00" r="1.25" fill="#2a2a2a"/>
<line x1="232.50" y1="194.50" x2="244.50" y2="194.50" stroke="#333" stroke-width="1.0"/>
<circle cx="234.56" cy="190.80" r="1.25" fill="#2a2a2a"/>
<circle cx="237.19" cy="190.80" r="1.25" fill="#2a2a2a"/>
<circle cx="239.81" cy="190.80" r="1.25" fill="#2a2a2a"/>
<circle cx="242.44" cy="190.80" r="1.25" fill="#2a2a2a"/>
<text x="260.57" y="156.10" font-size="11.4" font-weight="bold" fill="#111" stroke="#111" stroke-width="0.3" textLength="9.97" lengthAdjust="spacingAndGlyphs">G</text>
<line x1="298.50" y1="157.30" x2="298.50" y2="252.25" stroke="#222" stroke-width="1.25"/>
<line x1="296.00" y1="251.50" x2="298.50" y2="251.50" stroke="#222" stroke-width="1.0"/>
<line x1="296.00" y1="221.50" x2="298.50" y2="221.50" stroke="#222" stroke-width="1.0"/>
<line x1="296.00" y1="190.50" x2="298.50" y2="190.50" stroke="#222" stroke-width="1.0"/>
<line x1="296.00" y1="159.50" x2="298.50" y2="159.50" stroke="#222" stroke-width="1.0"/>
<text x="291.60" y="254.49" font-size="7.6" text-anchor="end" fill="#333" stroke="#333" stroke-width="0.15" textLength="3.50" lengthAdjust="spacingAndGlyphs">0</text>
<text x="291.60" y="223.74" font-size="7.6" text-anchor="end" fill="#333" stroke="#333" stroke-width="0.15" textLength="6.70" lengthAdjust="spacingAndGlyphs">50</text>
<text x="291.60" y="192.99" font-size="7.6" text-anchor="end" fill="#333" stroke="#333" stroke-width="0.15" textLength="10.00" lengthAdjust="spacingAndGlyphs">100</text>
<text x="291.60" y="162.24" font-size="7.6" text-anchor="end" fill="#333" stroke="#333" stroke-width="0.15" textLength="10.00" lengthAdjust="spacingAndGlyphs">150</text>
<text x="275.24" y="204.50" font-size="9.2" text-anchor="middle" fill="#333" stroke="#333" stroke-width="0.25" textLength="84.00" lengthAdjust="spacingAndGlyphs" transform="rotate(-90 275.24 204.50)">Rel. absolute cell counts %</text>
<rect x="301.90" y="191.17" width="6.20" height="60.58" fill="#c8102e"/>
<rect x="311.57" y="179.18" width="6.20" height="72.57" fill="#3cb034"/>
<rect x="321.24" y="180.10" width="6.20" height="71.65" fill="#1c4f8c"/>
<rect x="330.91" y="185.70" width="6.20" height="66.05" fill="#5a1f6e"/>
<rect x="340.58" y="199.47" width="6.20" height="52.27" fill="#f7931e"/>
<rect x="350.25" y="207.78" width="6.20" height="43.97" fill="#0e6b4b"/>
<rect x="359.92" y="227.15" width="6.20" height="24.60" fill="#9b8dc8"/>
<rect x="369.59" y="250.52" width="6.20" height="1.23" fill="#4b5568"/>
<line x1="305.50" y1="191.17" x2="305.50" y2="187.48" stroke="#231f20" stroke-width="1.0"/>
<line x1="303.40" y1="187.50" x2="306.60" y2="187.50" stroke="#231f20" stroke-width="1.0"/>
<line x1="324.50" y1="180.10" x2="324.50" y2="172.42" stroke="#231f20" stroke-width="1.0"/>
<line x1="322.74" y1="172.50" x2="325.94" y2="172.50" stroke="#231f20" stroke-width="1.0"/>
<line x1="334.50" y1="185.70" x2="334.50" y2="179.98" stroke="#231f20" stroke-width="1.0"/>
<line x1="332.41" y1="179.50" x2="335.61" y2="179.50" stroke="#231f20" stroke-width="1.0"/>
<circle cx="305.00" cy="187.48" r="2.1" fill="#111"/>
<circle cx="313.17" cy="177.95" r="2.1" fill="#111"/>
<circle cx="316.17" cy="177.95" r="2.1" fill="#111"/>
<circle cx="314.67" cy="179.18" r="2.1" fill="#111"/>
<circle cx="322.84" cy="172.42" r="2.1" fill="#111"/>
<circle cx="325.84" cy="179.18" r="2.1" fill="#111"/>
<circle cx="324.34" cy="181.03" r="2.1" fill="#111"/>
<circle cx="332.51" cy="179.98" r="2.1" fill="#111"/>
<circle cx="335.51" cy="184.90" r="2.1" fill="#111"/>
<circle cx="334.01" cy="186.56" r="2.1" fill="#111"/>
<circle cx="343.08" cy="198.00" r="2.1" fill="#111"/>
<circle cx="345.08" cy="198.86" r="2.1" fill="#111"/>
<circle cx="352.75" cy="203.90" r="2.1" fill="#111"/>
<circle cx="354.75" cy="208.09" r="2.1" fill="#111"/>
<circle cx="361.52" cy="221.92" r="2.1" fill="#111"/>
<circle cx="364.52" cy="224.69" r="2.1" fill="#111"/>
<circle cx="363.02" cy="227.15" r="2.1" fill="#111"/>
<circle cx="372.09" cy="249.91" r="2.1" fill="#111"/>
<circle cx="374.09" cy="250.52" r="2.1" fill="#111"/>
<line x1="297.90" y1="251.75" x2="379.19" y2="251.75" stroke="#1a1a1a" stroke-width="1.4"/>
<line x1="305.50" y1="251.75" x2="305.50" y2="255.15" stroke="#222" stroke-width="1.0"/>
<line x1="314.50" y1="251.75" x2="314.50" y2="255.15" stroke="#222" stroke-width="1.0"/>
<line x1="324.50" y1="251.75" x2="324.50" y2="255.15" stroke="#222" stroke-width="1.0"/>
<line x1="334.50" y1="251.75" x2="334.50" y2="255.15" stroke="#222" stroke-width="1.0"/>
<line x1="343.50" y1="251.75" x2="343.50" y2="255.15" stroke="#222" stroke-width="1.0"/>
<line x1="353.50" y1="251.75" x2="353.50" y2="255.15" stroke="#222" stroke-width="1.0"/>
<line x1="363.50" y1="251.75" x2="363.50" y2="255.15" stroke="#222" stroke-width="1.0"/>
<line x1="372.50" y1="251.75" x2="372.50" y2="255.15" stroke="#222" stroke-width="1.0"/>
<text x="308.30" y="261.55" font-size="7.3" text-anchor="end" fill="#333" stroke="#333" stroke-width="0.22" textLength="3.73" lengthAdjust="spacingAndGlyphs" transform="rotate(-44 308.30 261.55)">0</text>
<text x="317.97" y="261.55" font-size="7.3" text-anchor="end" fill="#333" stroke="#333" stroke-width="0.22" textLength="11.58" lengthAdjust="spacingAndGlyphs" transform="rotate(-44 317.97 261.55)">Veh</text>
<text x="327.64" y="261.55" font-size="7.3" text-anchor="end" fill="#333" stroke="#333" stroke-width="0.22" textLength="18.80" lengthAdjust="spacingAndGlyphs" transform="rotate(-44 327.64 261.55)">0.1µM</text>
<text x="337.31" y="261.55" font-size="7.3" text-anchor="end" fill="#333" stroke="#333" stroke-width="0.22" textLength="13.20" lengthAdjust="spacingAndGlyphs" transform="rotate(-44 337.31 261.55)">1µM</text>
<text x="346.98" y="261.55" font-size="7.3" text-anchor="end" fill="#333" stroke="#333" stroke-width="0.22" textLength="16.93" lengthAdjust="spacingAndGlyphs" transform="rotate(-44 346.98 261.55)">10µM</text>
<text x="356.65" y="261.55" font-size="7.3" text-anchor="end" fill="#333" stroke="#333" stroke-width="0.22" textLength="16.93" lengthAdjust="spacingAndGlyphs" transform="rotate(-44 356.65 261.55)">25µM</text>
<text x="366.32" y="261.55" font-size="7.3" text-anchor="end" fill="#333" stroke="#333" stroke-width="0.22" textLength="16.93" lengthAdjust="spacingAndGlyphs" transform="rotate(-44 366.32 261.55)">50µM</text>
<text x="375.99" y="261.55" font-size="7.3" text-anchor="end" fill="#333" stroke="#333" stroke-width="0.22" textLength="20.67" lengthAdjust="spacingAndGlyphs" transform="rotate(-44 375.99 261.55)">100µM</text>
<text x="339.10" y="164.80" font-size="7.0" text-anchor="middle" fill="#333" stroke="#333" stroke-width="0.12" textLength="25.90" lengthAdjust="spacingAndGlyphs">AML#20</text>
<text x="340.60" y="288.10" font-size="9.1" text-anchor="middle" fill="#333" stroke="#333" stroke-width="0.25" textLength="47.80" lengthAdjust="spacingAndGlyphs">SETD2-IN-1 TFA</text>
<line x1="341.00" y1="192.50" x2="346.00" y2="192.50" stroke="#333" stroke-width="1.0"/>
<circle cx="343.50" cy="188.75" r="1.25" fill="#2a2a2a"/>
<line x1="348.75" y1="199.50" x2="357.00" y2="199.50" stroke="#333" stroke-width="1.0"/>
<circle cx="350.27" cy="196.50" r="1.25" fill="#2a2a2a"/>
<circle cx="352.88" cy="196.50" r="1.25" fill="#2a2a2a"/>
<circle cx="355.47" cy="196.50" r="1.25" fill="#2a2a2a"/>
<text x="389.43" y="155.90" font-size="11.4" font-weight="bold" fill="#111" stroke="#111" stroke-width="0.3" textLength="8.74" lengthAdjust="spacingAndGlyphs">H</text>
<line x1="426.00" y1="157.30" x2="426.00" y2="252.25" stroke="#222" stroke-width="1.25"/>
<line x1="423.50" y1="251.50" x2="426.00" y2="251.50" stroke="#222" stroke-width="1.0"/>
<line x1="423.50" y1="221.50" x2="426.00" y2="221.50" stroke="#222" stroke-width="1.0"/>
<line x1="423.50" y1="190.50" x2="426.00" y2="190.50" stroke="#222" stroke-width="1.0"/>
<line x1="423.50" y1="159.50" x2="426.00" y2="159.50" stroke="#222" stroke-width="1.0"/>
<text x="419.10" y="254.49" font-size="7.6" text-anchor="end" fill="#333" stroke="#333" stroke-width="0.15" textLength="3.50" lengthAdjust="spacingAndGlyphs">0</text>
<text x="419.10" y="223.74" font-size="7.6" text-anchor="end" fill="#333" stroke="#333" stroke-width="0.15" textLength="6.70" lengthAdjust="spacingAndGlyphs">50</text>
<text x="419.10" y="192.99" font-size="7.6" text-anchor="end" fill="#333" stroke="#333" stroke-width="0.15" textLength="10.00" lengthAdjust="spacingAndGlyphs">100</text>
<text x="419.10" y="162.24" font-size="7.6" text-anchor="end" fill="#333" stroke="#333" stroke-width="0.15" textLength="10.00" lengthAdjust="spacingAndGlyphs">150</text>
<text x="404.04" y="204.80" font-size="9.2" text-anchor="middle" fill="#333" stroke="#333" stroke-width="0.25" textLength="84.00" lengthAdjust="spacingAndGlyphs" transform="rotate(-90 404.04 204.80)">Rel. absolute cell counts %</text>
<rect x="430.50" y="190.56" width="6.20" height="61.19" fill="#c8102e"/>
<rect x="440.17" y="185.64" width="6.20" height="66.11" fill="#3cb034"/>
<rect x="449.84" y="189.63" width="6.20" height="62.12" fill="#1c4f8c"/>
<rect x="459.51" y="189.82" width="6.20" height="61.93" fill="#5a1f6e"/>
<rect x="469.18" y="188.41" width="6.20" height="63.34" fill="#f7931e"/>
<rect x="478.85" y="206.24" width="6.20" height="45.51" fill="#0e6b4b"/>
<rect x="488.52" y="235.15" width="6.20" height="16.61" fill="#9b8dc8"/>
<rect x="498.19" y="250.52" width="6.20" height="1.23" fill="#4b5568"/>
<line x1="452.50" y1="189.63" x2="452.50" y2="179.18" stroke="#231f20" stroke-width="1.0"/>
<line x1="451.34" y1="179.50" x2="454.54" y2="179.50" stroke="#231f20" stroke-width="1.0"/>
<line x1="472.50" y1="188.41" x2="472.50" y2="178.26" stroke="#231f20" stroke-width="1.0"/>
<line x1="470.68" y1="178.50" x2="473.88" y2="178.50" stroke="#231f20" stroke-width="1.0"/>
<circle cx="433.00" cy="188.41" r="2.1" fill="#111"/>
<circle cx="435.00" cy="189.63" r="2.1" fill="#111"/>
<circle cx="441.77" cy="183.18" r="2.1" fill="#111"/>
<circle cx="444.77" cy="184.10" r="2.1" fill="#111"/>
<circle cx="443.27" cy="186.56" r="2.1" fill="#111"/>
<circle cx="451.44" cy="179.18" r="2.1" fill="#111"/>
<circle cx="454.44" cy="191.48" r="2.1" fill="#111"/>
<circle cx="452.94" cy="193.08" r="2.1" fill="#111"/>
<circle cx="462.01" cy="189.02" r="2.1" fill="#111"/>
<circle cx="464.01" cy="189.33" r="2.1" fill="#111"/>
<circle cx="470.78" cy="178.26" r="2.1" fill="#111"/>
<circle cx="473.78" cy="188.41" r="2.1" fill="#111"/>
<circle cx="472.28" cy="194.56" r="2.1" fill="#111"/>
<circle cx="480.45" cy="200.70" r="2.1" fill="#111"/>
<circle cx="483.45" cy="203.90" r="2.1" fill="#111"/>
<circle cx="481.95" cy="205.62" r="2.1" fill="#111"/>
<circle cx="491.02" cy="234.53" r="2.1" fill="#111"/>
<circle cx="493.02" cy="235.15" r="2.1" fill="#111"/>
<circle cx="500.69" cy="249.91" r="2.1" fill="#111"/>
<circle cx="502.69" cy="250.52" r="2.1" fill="#111"/>
<line x1="425.40" y1="251.75" x2="507.79" y2="251.75" stroke="#1a1a1a" stroke-width="1.4"/>
<line x1="433.50" y1="251.75" x2="433.50" y2="255.15" stroke="#222" stroke-width="1.0"/>
<line x1="443.50" y1="251.75" x2="443.50" y2="255.15" stroke="#222" stroke-width="1.0"/>
<line x1="452.50" y1="251.75" x2="452.50" y2="255.15" stroke="#222" stroke-width="1.0"/>
<line x1="462.50" y1="251.75" x2="462.50" y2="255.15" stroke="#222" stroke-width="1.0"/>
<line x1="472.50" y1="251.75" x2="472.50" y2="255.15" stroke="#222" stroke-width="1.0"/>
<line x1="481.50" y1="251.75" x2="481.50" y2="255.15" stroke="#222" stroke-width="1.0"/>
<line x1="491.50" y1="251.75" x2="491.50" y2="255.15" stroke="#222" stroke-width="1.0"/>
<line x1="501.50" y1="251.75" x2="501.50" y2="255.15" stroke="#222" stroke-width="1.0"/>
<text x="436.90" y="261.55" font-size="7.3" text-anchor="end" fill="#333" stroke="#333" stroke-width="0.22" textLength="3.73" lengthAdjust="spacingAndGlyphs" transform="rotate(-44 436.90 261.55)">0</text>
<text x="446.57" y="261.55" font-size="7.3" text-anchor="end" fill="#333" stroke="#333" stroke-width="0.22" textLength="11.58" lengthAdjust="spacingAndGlyphs" transform="rotate(-44 446.57 261.55)">Veh</text>
<text x="456.24" y="261.55" font-size="7.3" text-anchor="end" fill="#333" stroke="#333" stroke-width="0.22" textLength="18.80" lengthAdjust="spacingAndGlyphs" transform="rotate(-44 456.24 261.55)">0.1µM</text>
<text x="465.91" y="261.55" font-size="7.3" text-anchor="end" fill="#333" stroke="#333" stroke-width="0.22" textLength="13.20" lengthAdjust="spacingAndGlyphs" transform="rotate(-44 465.91 261.55)">1µM</text>
<text x="475.58" y="261.55" font-size="7.3" text-anchor="end" fill="#333" stroke="#333" stroke-width="0.22" textLength="16.93" lengthAdjust="spacingAndGlyphs" transform="rotate(-44 475.58 261.55)">10µM</text>
<text x="485.25" y="261.55" font-size="7.3" text-anchor="end" fill="#333" stroke="#333" stroke-width="0.22" textLength="16.93" lengthAdjust="spacingAndGlyphs" transform="rotate(-44 485.25 261.55)">25µM</text>
<text x="494.92" y="261.55" font-size="7.3" text-anchor="end" fill="#333" stroke="#333" stroke-width="0.22" textLength="16.93" lengthAdjust="spacingAndGlyphs" transform="rotate(-44 494.92 261.55)">50µM</text>
<text x="504.59" y="261.55" font-size="7.3" text-anchor="end" fill="#333" stroke="#333" stroke-width="0.22" textLength="20.67" lengthAdjust="spacingAndGlyphs" transform="rotate(-44 504.59 261.55)">100µM</text>
<text x="467.40" y="164.80" font-size="7.0" text-anchor="middle" fill="#333" stroke="#333" stroke-width="0.12" textLength="25.90" lengthAdjust="spacingAndGlyphs">AML#21</text>
<text x="468.20" y="288.10" font-size="9.1" text-anchor="middle" fill="#333" stroke="#333" stroke-width="0.25" textLength="47.80" lengthAdjust="spacingAndGlyphs">SETD2-IN-1 TFA</text>
<line x1="480.00" y1="196.50" x2="484.50" y2="196.50" stroke="#333" stroke-width="1.0"/>
<circle cx="482.25" cy="193.10" r="1.25" fill="#2a2a2a"/>
<line x1="490.75" y1="229.50" x2="503.25" y2="229.50" stroke="#333" stroke-width="1.0"/>
<circle cx="493.06" cy="225.90" r="1.25" fill="#2a2a2a"/>
<circle cx="495.69" cy="225.90" r="1.25" fill="#2a2a2a"/>
<circle cx="498.31" cy="225.90" r="1.25" fill="#2a2a2a"/>
<circle cx="500.94" cy="225.90" r="1.25" fill="#2a2a2a"/>
<text x="0.78" y="308.00" font-size="11.4" font-weight="bold" fill="#111" stroke="#111" stroke-width="0.3" textLength="2.24" lengthAdjust="spacingAndGlyphs">I</text>
<line x1="40.70" y1="309.80" x2="40.70" y2="404.25" stroke="#222" stroke-width="1.25"/>
<line x1="38.20" y1="403.50" x2="40.70" y2="403.50" stroke="#222" stroke-width="1.0"/>
<line x1="38.20" y1="373.50" x2="40.70" y2="373.50" stroke="#222" stroke-width="1.0"/>
<line x1="38.20" y1="342.50" x2="40.70" y2="342.50" stroke="#222" stroke-width="1.0"/>
<line x1="38.20" y1="312.50" x2="40.70" y2="312.50" stroke="#222" stroke-width="1.0"/>
<text x="33.80" y="406.49" font-size="7.6" text-anchor="end" fill="#333" stroke="#333" stroke-width="0.15" textLength="3.50" lengthAdjust="spacingAndGlyphs">0</text>
<text x="33.80" y="375.90" font-size="7.6" text-anchor="end" fill="#333" stroke="#333" stroke-width="0.15" textLength="6.70" lengthAdjust="spacingAndGlyphs">50</text>
<text x="33.80" y="345.32" font-size="7.6" text-anchor="end" fill="#333" stroke="#333" stroke-width="0.15" textLength="10.00" lengthAdjust="spacingAndGlyphs">100</text>
<text x="33.80" y="314.74" font-size="7.6" text-anchor="end" fill="#333" stroke="#333" stroke-width="0.15" textLength="10.00" lengthAdjust="spacingAndGlyphs">150</text>
<text x="17.64" y="356.50" font-size="9.2" text-anchor="middle" fill="#333" stroke="#333" stroke-width="0.25" textLength="83.00" lengthAdjust="spacingAndGlyphs" transform="rotate(-90 17.64 356.50)">Rel. absolute cell counts %</text>
<rect x="44.25" y="343.19" width="6.20" height="60.55" fill="#c8102e"/>
<rect x="53.92" y="341.36" width="6.20" height="62.39" fill="#3cb034"/>
<rect x="63.59" y="347.48" width="6.20" height="56.27" fill="#1c4f8c"/>
<rect x="73.26" y="352.68" width="6.20" height="51.07" fill="#5a1f6e"/>
<rect x="82.93" y="357.51" width="6.20" height="46.24" fill="#f7931e"/>
<rect x="92.60" y="358.79" width="6.20" height="44.96" fill="#0e6b4b"/>
<rect x="102.27" y="378.24" width="6.20" height="25.51" fill="#9b8dc8"/>
<rect x="111.94" y="398.92" width="6.20" height="4.83" fill="#4b5568"/>
<line x1="66.50" y1="347.48" x2="66.50" y2="340.14" stroke="#231f20" stroke-width="1.0"/>
<line x1="65.09" y1="340.50" x2="68.29" y2="340.50" stroke="#231f20" stroke-width="1.0"/>
<line x1="66.50" y1="347.48" x2="66.50" y2="351.76" stroke="#231f20" stroke-width="1.0"/>
<line x1="65.09" y1="351.50" x2="68.29" y2="351.50" stroke="#231f20" stroke-width="1.0"/>
<line x1="76.50" y1="352.68" x2="76.50" y2="345.64" stroke="#231f20" stroke-width="1.0"/>
<line x1="74.76" y1="345.50" x2="77.96" y2="345.50" stroke="#231f20" stroke-width="1.0"/>
<line x1="76.50" y1="352.68" x2="76.50" y2="359.71" stroke="#231f20" stroke-width="1.0"/>
<line x1="74.76" y1="359.50" x2="77.96" y2="359.50" stroke="#231f20" stroke-width="1.0"/>
<circle cx="45.85" cy="340.75" r="2.1" fill="#111"/>
<circle cx="48.85" cy="342.58" r="2.1" fill="#111"/>
<circle cx="47.35" cy="343.81" r="2.1" fill="#111"/>
<circle cx="56.42" cy="337.69" r="2.1" fill="#111"/>
<circle cx="58.42" cy="341.36" r="2.1" fill="#111"/>
<circle cx="65.19" cy="340.14" r="2.1" fill="#111"/>
<circle cx="68.19" cy="348.70" r="2.1" fill="#111"/>
<circle cx="66.69" cy="351.76" r="2.1" fill="#111"/>
<circle cx="74.86" cy="345.64" r="2.1" fill="#111"/>
<circle cx="77.86" cy="348.88" r="2.1" fill="#111"/>
<circle cx="76.36" cy="360.93" r="2.1" fill="#111"/>
<circle cx="85.43" cy="357.26" r="2.1" fill="#111"/>
<circle cx="87.43" cy="357.57" r="2.1" fill="#111"/>
<circle cx="94.20" cy="358.49" r="2.1" fill="#111"/>
<circle cx="97.20" cy="359.40" r="2.1" fill="#111"/>
<circle cx="95.70" cy="359.71" r="2.1" fill="#111"/>
<circle cx="104.77" cy="378.06" r="2.1" fill="#111"/>
<circle cx="106.77" cy="378.37" r="2.1" fill="#111"/>
<circle cx="114.44" cy="398.55" r="2.1" fill="#111"/>
<circle cx="116.44" cy="399.16" r="2.1" fill="#111"/>
<line x1="40.10" y1="403.75" x2="121.54" y2="403.75" stroke="#1a1a1a" stroke-width="1.4"/>
<line x1="47.50" y1="403.75" x2="47.50" y2="407.15" stroke="#222" stroke-width="1.0"/>
<line x1="57.50" y1="403.75" x2="57.50" y2="407.15" stroke="#222" stroke-width="1.0"/>
<line x1="66.50" y1="403.75" x2="66.50" y2="407.15" stroke="#222" stroke-width="1.0"/>
<line x1="76.50" y1="403.75" x2="76.50" y2="407.15" stroke="#222" stroke-width="1.0"/>
<line x1="86.50" y1="403.75" x2="86.50" y2="407.15" stroke="#222" stroke-width="1.0"/>
<line x1="95.50" y1="403.75" x2="95.50" y2="407.15" stroke="#222" stroke-width="1.0"/>
<line x1="105.50" y1="403.75" x2="105.50" y2="407.15" stroke="#222" stroke-width="1.0"/>
<line x1="115.50" y1="403.75" x2="115.50" y2="407.15" stroke="#222" stroke-width="1.0"/>
<text x="50.65" y="413.55" font-size="7.3" text-anchor="end" fill="#333" stroke="#333" stroke-width="0.22" textLength="3.73" lengthAdjust="spacingAndGlyphs" transform="rotate(-44 50.65 413.55)">0</text>
<text x="60.32" y="413.55" font-size="7.3" text-anchor="end" fill="#333" stroke="#333" stroke-width="0.22" textLength="11.58" lengthAdjust="spacingAndGlyphs" transform="rotate(-44 60.32 413.55)">Veh</text>
<text x="69.99" y="413.55" font-size="7.3" text-anchor="end" fill="#333" stroke="#333" stroke-width="0.22" textLength="18.80" lengthAdjust="spacingAndGlyphs" transform="rotate(-44 69.99 413.55)">0.1µM</text>
<text x="79.66" y="413.55" font-size="7.3" text-anchor="end" fill="#333" stroke="#333" stroke-width="0.22" textLength="13.20" lengthAdjust="spacingAndGlyphs" transform="rotate(-44 79.66 413.55)">1µM</text>
<text x="89.33" y="413.55" font-size="7.3" text-anchor="end" fill="#333" stroke="#333" stroke-width="0.22" textLength="16.93" lengthAdjust="spacingAndGlyphs" transform="rotate(-44 89.33 413.55)">10µM</text>
<text x="99.00" y="413.55" font-size="7.3" text-anchor="end" fill="#333" stroke="#333" stroke-width="0.22" textLength="16.93" lengthAdjust="spacingAndGlyphs" transform="rotate(-44 99.00 413.55)">25µM</text>
<text x="108.67" y="413.55" font-size="7.3" text-anchor="end" fill="#333" stroke="#333" stroke-width="0.22" textLength="16.93" lengthAdjust="spacingAndGlyphs" transform="rotate(-44 108.67 413.55)">50µM</text>
<text x="118.34" y="413.55" font-size="7.3" text-anchor="end" fill="#333" stroke="#333" stroke-width="0.22" textLength="20.67" lengthAdjust="spacingAndGlyphs" transform="rotate(-44 118.34 413.55)">100µM</text>
<text x="81.80" y="316.80" font-size="7.0" text-anchor="middle" fill="#333" stroke="#333" stroke-width="0.12" textLength="25.90" lengthAdjust="spacingAndGlyphs">AML#22</text>
<text x="81.50" y="440.00" font-size="9.1" text-anchor="middle" fill="#333" stroke="#333" stroke-width="0.25" textLength="47.80" lengthAdjust="spacingAndGlyphs">SETD2-IN-1 TFA</text>
<line x1="83.75" y1="352.50" x2="89.25" y2="352.50" stroke="#333" stroke-width="1.0"/>
<circle cx="85.20" cy="349.30" r="1.25" fill="#2a2a2a"/>
<circle cx="87.80" cy="349.30" r="1.25" fill="#2a2a2a"/>
<line x1="92.50" y1="355.50" x2="100.00" y2="355.50" stroke="#333" stroke-width="1.0"/>
<circle cx="93.65" cy="351.75" r="1.25" fill="#2a2a2a"/>
<circle cx="96.25" cy="351.75" r="1.25" fill="#2a2a2a"/>
<circle cx="98.85" cy="351.75" r="1.25" fill="#2a2a2a"/>
<line x1="105.00" y1="373.50" x2="116.25" y2="373.50" stroke="#333" stroke-width="1.0"/>
<circle cx="106.69" cy="370.00" r="1.25" fill="#2a2a2a"/>
<circle cx="109.31" cy="370.00" r="1.25" fill="#2a2a2a"/>
<circle cx="111.94" cy="370.00" r="1.25" fill="#2a2a2a"/>
<circle cx="114.56" cy="370.00" r="1.25" fill="#2a2a2a"/>
<text x="131.69" y="308.00" font-size="11.4" font-weight="bold" fill="#111" stroke="#111" stroke-width="0.3" textLength="5.82" lengthAdjust="spacingAndGlyphs">J</text>
<line x1="168.75" y1="309.80" x2="168.75" y2="404.25" stroke="#222" stroke-width="1.25"/>
<line x1="166.25" y1="403.50" x2="168.75" y2="403.50" stroke="#222" stroke-width="1.0"/>
<line x1="166.25" y1="373.50" x2="168.75" y2="373.50" stroke="#222" stroke-width="1.0"/>
<line x1="166.25" y1="342.50" x2="168.75" y2="342.50" stroke="#222" stroke-width="1.0"/>
<line x1="166.25" y1="312.50" x2="168.75" y2="312.50" stroke="#222" stroke-width="1.0"/>
<text x="161.85" y="406.49" font-size="7.6" text-anchor="end" fill="#333" stroke="#333" stroke-width="0.15" textLength="3.50" lengthAdjust="spacingAndGlyphs">0</text>
<text x="161.85" y="375.90" font-size="7.6" text-anchor="end" fill="#333" stroke="#333" stroke-width="0.15" textLength="6.70" lengthAdjust="spacingAndGlyphs">50</text>
<text x="161.85" y="345.32" font-size="7.6" text-anchor="end" fill="#333" stroke="#333" stroke-width="0.15" textLength="10.00" lengthAdjust="spacingAndGlyphs">100</text>
<text x="161.85" y="314.74" font-size="7.6" text-anchor="end" fill="#333" stroke="#333" stroke-width="0.15" textLength="10.00" lengthAdjust="spacingAndGlyphs">150</text>
<text x="146.84" y="356.30" font-size="8.6" text-anchor="middle" fill="#333" stroke="#333" stroke-width="0.25" textLength="64.00" lengthAdjust="spacingAndGlyphs" transform="rotate(-90 146.84 356.30)">Rel. % viable (DAPI-)</text>
<rect x="173.00" y="343.44" width="6.20" height="60.31" fill="#c8102e"/>
<rect x="182.67" y="349.31" width="6.20" height="54.44" fill="#3cb034"/>
<rect x="192.34" y="340.14" width="6.20" height="63.61" fill="#1c4f8c"/>
<rect x="202.01" y="350.23" width="6.20" height="53.52" fill="#5a1f6e"/>
<rect x="211.68" y="343.81" width="6.20" height="59.94" fill="#f7931e"/>
<rect x="221.35" y="344.60" width="6.20" height="59.15" fill="#0e6b4b"/>
<rect x="231.02" y="353.90" width="6.20" height="49.85" fill="#9b8dc8"/>
<rect x="240.69" y="378.18" width="6.20" height="25.57" fill="#4b5568"/>
<line x1="176.50" y1="343.44" x2="176.50" y2="337.93" stroke="#231f20" stroke-width="1.0"/>
<line x1="174.50" y1="337.50" x2="177.70" y2="337.50" stroke="#231f20" stroke-width="1.0"/>
<circle cx="176.10" cy="337.93" r="2.1" fill="#111"/>
<circle cx="176.90" cy="341.79" r="2.1" fill="#111"/>
<circle cx="185.17" cy="348.70" r="2.1" fill="#111"/>
<circle cx="187.17" cy="349.01" r="2.1" fill="#111"/>
<circle cx="194.84" cy="334.75" r="2.1" fill="#111"/>
<circle cx="196.84" cy="338.91" r="2.1" fill="#111"/>
<circle cx="204.51" cy="347.05" r="2.1" fill="#111"/>
<circle cx="206.51" cy="349.31" r="2.1" fill="#111"/>
<circle cx="214.18" cy="341.36" r="2.1" fill="#111"/>
<circle cx="216.18" cy="343.19" r="2.1" fill="#111"/>
<circle cx="223.85" cy="344.11" r="2.1" fill="#111"/>
<circle cx="225.85" cy="344.42" r="2.1" fill="#111"/>
<circle cx="233.62" cy="347.48" r="2.1" fill="#111"/>
<circle cx="235.32" cy="351.76" r="2.1" fill="#111"/>
<circle cx="233.12" cy="354.08" r="2.1" fill="#111"/>
<circle cx="242.99" cy="373.17" r="2.1" fill="#111"/>
<circle cx="244.99" cy="377.33" r="2.1" fill="#111"/>
<circle cx="243.79" cy="380.20" r="2.1" fill="#111"/>
<line x1="168.15" y1="403.75" x2="250.29" y2="403.75" stroke="#1a1a1a" stroke-width="1.4"/>
<line x1="176.50" y1="403.75" x2="176.50" y2="407.15" stroke="#222" stroke-width="1.0"/>
<line x1="185.50" y1="403.75" x2="185.50" y2="407.15" stroke="#222" stroke-width="1.0"/>
<line x1="195.50" y1="403.75" x2="195.50" y2="407.15" stroke="#222" stroke-width="1.0"/>
<line x1="205.50" y1="403.75" x2="205.50" y2="407.15" stroke="#222" stroke-width="1.0"/>
<line x1="214.50" y1="403.75" x2="214.50" y2="407.15" stroke="#222" stroke-width="1.0"/>
<line x1="224.50" y1="403.75" x2="224.50" y2="407.15" stroke="#222" stroke-width="1.0"/>
<line x1="234.50" y1="403.75" x2="234.50" y2="407.15" stroke="#222" stroke-width="1.0"/>
<line x1="243.50" y1="403.75" x2="243.50" y2="407.15" stroke="#222" stroke-width="1.0"/>
<text x="179.40" y="413.55" font-size="7.3" text-anchor="end" fill="#333" stroke="#333" stroke-width="0.22" textLength="3.73" lengthAdjust="spacingAndGlyphs" transform="rotate(-44 179.40 413.55)">0</text>
<text x="189.07" y="413.55" font-size="7.3" text-anchor="end" fill="#333" stroke="#333" stroke-width="0.22" textLength="11.58" lengthAdjust="spacingAndGlyphs" transform="rotate(-44 189.07 413.55)">Veh</text>
<text x="198.74" y="413.55" font-size="7.3" text-anchor="end" fill="#333" stroke="#333" stroke-width="0.22" textLength="18.80" lengthAdjust="spacingAndGlyphs" transform="rotate(-44 198.74 413.55)">0.1µM</text>
<text x="208.41" y="413.55" font-size="7.3" text-anchor="end" fill="#333" stroke="#333" stroke-width="0.22" textLength="13.20" lengthAdjust="spacingAndGlyphs" transform="rotate(-44 208.41 413.55)">1µM</text>
<text x="218.08" y="413.55" font-size="7.3" text-anchor="end" fill="#333" stroke="#333" stroke-width="0.22" textLength="16.93" lengthAdjust="spacingAndGlyphs" transform="rotate(-44 218.08 413.55)">10µM</text>
<text x="227.75" y="413.55" font-size="7.3" text-anchor="end" fill="#333" stroke="#333" stroke-width="0.22" textLength="16.93" lengthAdjust="spacingAndGlyphs" transform="rotate(-44 227.75 413.55)">25µM</text>
<text x="237.42" y="413.55" font-size="7.3" text-anchor="end" fill="#333" stroke="#333" stroke-width="0.22" textLength="16.93" lengthAdjust="spacingAndGlyphs" transform="rotate(-44 237.42 413.55)">50µM</text>
<text x="247.09" y="413.55" font-size="7.3" text-anchor="end" fill="#333" stroke="#333" stroke-width="0.22" textLength="20.67" lengthAdjust="spacingAndGlyphs" transform="rotate(-44 247.09 413.55)">100µM</text>
<text x="210.30" y="316.80" font-size="7.0" text-anchor="middle" fill="#333" stroke="#333" stroke-width="0.12" textLength="25.90" lengthAdjust="spacingAndGlyphs">AML#18</text>
<text x="210.50" y="440.00" font-size="9.1" text-anchor="middle" fill="#333" stroke="#333" stroke-width="0.25" textLength="47.80" lengthAdjust="spacingAndGlyphs">SETD2-IN-1 TFA</text>
<line x1="232.50" y1="342.50" x2="236.25" y2="342.50" stroke="#333" stroke-width="1.0"/>
<circle cx="234.38" cy="339.30" r="1.25" fill="#2a2a2a"/>
<line x1="240.00" y1="368.50" x2="251.25" y2="368.50" stroke="#333" stroke-width="1.0"/>
<circle cx="241.69" cy="364.30" r="1.25" fill="#2a2a2a"/>
<circle cx="244.31" cy="364.30" r="1.25" fill="#2a2a2a"/>
<circle cx="246.94" cy="364.30" r="1.25" fill="#2a2a2a"/>
<circle cx="249.56" cy="364.30" r="1.25" fill="#2a2a2a"/>
<text x="260.80" y="308.00" font-size="11.4" font-weight="bold" fill="#111" stroke="#111" stroke-width="0.3" textLength="8.40" lengthAdjust="spacingAndGlyphs">K</text>
<line x1="298.00" y1="309.80" x2="298.00" y2="404.25" stroke="#222" stroke-width="1.25"/>
<line x1="295.50" y1="403.50" x2="298.00" y2="403.50" stroke="#222" stroke-width="1.0"/>
<line x1="295.50" y1="373.50" x2="298.00" y2="373.50" stroke="#222" stroke-width="1.0"/>
<line x1="295.50" y1="342.50" x2="298.00" y2="342.50" stroke="#222" stroke-width="1.0"/>
<line x1="295.50" y1="312.50" x2="298.00" y2="312.50" stroke="#222" stroke-width="1.0"/>
<text x="291.10" y="406.49" font-size="7.6" text-anchor="end" fill="#333" stroke="#333" stroke-width="0.15" textLength="3.50" lengthAdjust="spacingAndGlyphs">0</text>
<text x="291.10" y="375.90" font-size="7.6" text-anchor="end" fill="#333" stroke="#333" stroke-width="0.15" textLength="6.70" lengthAdjust="spacingAndGlyphs">50</text>
<text x="291.10" y="345.32" font-size="7.6" text-anchor="end" fill="#333" stroke="#333" stroke-width="0.15" textLength="10.00" lengthAdjust="spacingAndGlyphs">100</text>
<text x="291.10" y="314.74" font-size="7.6" text-anchor="end" fill="#333" stroke="#333" stroke-width="0.15" textLength="10.00" lengthAdjust="spacingAndGlyphs">150</text>
<text x="275.04" y="356.00" font-size="8.6" text-anchor="middle" fill="#333" stroke="#333" stroke-width="0.25" textLength="64.60" lengthAdjust="spacingAndGlyphs" transform="rotate(-90 275.04 356.00)">Rel. % viable (DAPI-)</text>
<rect x="301.90" y="343.19" width="6.20" height="60.55" fill="#c8102e"/>
<rect x="311.57" y="343.81" width="6.20" height="59.94" fill="#3cb034"/>
<rect x="321.24" y="342.58" width="6.20" height="61.17" fill="#1c4f8c"/>
<rect x="330.91" y="344.42" width="6.20" height="59.33" fill="#5a1f6e"/>
<rect x="340.58" y="345.64" width="6.20" height="58.11" fill="#f7931e"/>
<rect x="350.25" y="346.25" width="6.20" height="57.50" fill="#0e6b4b"/>
<rect x="359.92" y="351.15" width="6.20" height="52.60" fill="#9b8dc8"/>
<rect x="369.59" y="398.86" width="6.20" height="4.89" fill="#4b5568"/>
<circle cx="304.40" cy="342.58" r="2.1" fill="#111"/>
<circle cx="306.40" cy="343.19" r="2.1" fill="#111"/>
<circle cx="314.07" cy="343.19" r="2.1" fill="#111"/>
<circle cx="316.07" cy="343.81" r="2.1" fill="#111"/>
<circle cx="323.74" cy="341.97" r="2.1" fill="#111"/>
<circle cx="325.74" cy="342.58" r="2.1" fill="#111"/>
<circle cx="333.41" cy="343.81" r="2.1" fill="#111"/>
<circle cx="335.41" cy="344.42" r="2.1" fill="#111"/>
<circle cx="343.08" cy="345.03" r="2.1" fill="#111"/>
<circle cx="345.08" cy="345.64" r="2.1" fill="#111"/>
<circle cx="352.75" cy="345.64" r="2.1" fill="#111"/>
<circle cx="354.75" cy="346.25" r="2.1" fill="#111"/>
<circle cx="362.42" cy="348.09" r="2.1" fill="#111"/>
<circle cx="364.42" cy="351.15" r="2.1" fill="#111"/>
<circle cx="371.19" cy="395.80" r="2.1" fill="#111"/>
<circle cx="374.19" cy="399.47" r="2.1" fill="#111"/>
<circle cx="372.69" cy="400.69" r="2.1" fill="#111"/>
<line x1="297.40" y1="403.75" x2="379.19" y2="403.75" stroke="#1a1a1a" stroke-width="1.4"/>
<line x1="305.50" y1="403.75" x2="305.50" y2="407.15" stroke="#222" stroke-width="1.0"/>
<line x1="314.50" y1="403.75" x2="314.50" y2="407.15" stroke="#222" stroke-width="1.0"/>
<line x1="324.50" y1="403.75" x2="324.50" y2="407.15" stroke="#222" stroke-width="1.0"/>
<line x1="334.50" y1="403.75" x2="334.50" y2="407.15" stroke="#222" stroke-width="1.0"/>
<line x1="343.50" y1="403.75" x2="343.50" y2="407.15" stroke="#222" stroke-width="1.0"/>
<line x1="353.50" y1="403.75" x2="353.50" y2="407.15" stroke="#222" stroke-width="1.0"/>
<line x1="363.50" y1="403.75" x2="363.50" y2="407.15" stroke="#222" stroke-width="1.0"/>
<line x1="372.50" y1="403.75" x2="372.50" y2="407.15" stroke="#222" stroke-width="1.0"/>
<text x="308.30" y="413.55" font-size="7.3" text-anchor="end" fill="#333" stroke="#333" stroke-width="0.22" textLength="3.73" lengthAdjust="spacingAndGlyphs" transform="rotate(-44 308.30 413.55)">0</text>
<text x="317.97" y="413.55" font-size="7.3" text-anchor="end" fill="#333" stroke="#333" stroke-width="0.22" textLength="11.58" lengthAdjust="spacingAndGlyphs" transform="rotate(-44 317.97 413.55)">Veh</text>
<text x="327.64" y="413.55" font-size="7.3" text-anchor="end" fill="#333" stroke="#333" stroke-width="0.22" textLength="18.80" lengthAdjust="spacingAndGlyphs" transform="rotate(-44 327.64 413.55)">0.1µM</text>
<text x="337.31" y="413.55" font-size="7.3" text-anchor="end" fill="#333" stroke="#333" stroke-width="0.22" textLength="13.20" lengthAdjust="spacingAndGlyphs" transform="rotate(-44 337.31 413.55)">1µM</text>
<text x="346.98" y="413.55" font-size="7.3" text-anchor="end" fill="#333" stroke="#333" stroke-width="0.22" textLength="16.93" lengthAdjust="spacingAndGlyphs" transform="rotate(-44 346.98 413.55)">10µM</text>
<text x="356.65" y="413.55" font-size="7.3" text-anchor="end" fill="#333" stroke="#333" stroke-width="0.22" textLength="16.93" lengthAdjust="spacingAndGlyphs" transform="rotate(-44 356.65 413.55)">25µM</text>
<text x="366.32" y="413.55" font-size="7.3" text-anchor="end" fill="#333" stroke="#333" stroke-width="0.22" textLength="16.93" lengthAdjust="spacingAndGlyphs" transform="rotate(-44 366.32 413.55)">50µM</text>
<text x="375.99" y="413.55" font-size="7.3" text-anchor="end" fill="#333" stroke="#333" stroke-width="0.22" textLength="20.67" lengthAdjust="spacingAndGlyphs" transform="rotate(-44 375.99 413.55)">100µM</text>
<text x="339.10" y="316.80" font-size="7.0" text-anchor="middle" fill="#333" stroke="#333" stroke-width="0.12" textLength="25.90" lengthAdjust="spacingAndGlyphs">AML#19</text>
<text x="340.60" y="440.00" font-size="9.1" text-anchor="middle" fill="#333" stroke="#333" stroke-width="0.25" textLength="47.80" lengthAdjust="spacingAndGlyphs">SETD2-IN-1 TFA</text>
<line x1="351.25" y1="339.50" x2="356.25" y2="339.50" stroke="#333" stroke-width="1.0"/>
<circle cx="353.75" cy="335.75" r="1.25" fill="#2a2a2a"/>
<line x1="361.25" y1="343.50" x2="373.75" y2="343.50" stroke="#333" stroke-width="1.0"/>
<circle cx="363.56" cy="340.30" r="1.25" fill="#2a2a2a"/>
<circle cx="366.19" cy="340.30" r="1.25" fill="#2a2a2a"/>
<circle cx="368.81" cy="340.30" r="1.25" fill="#2a2a2a"/>
<circle cx="371.44" cy="340.30" r="1.25" fill="#2a2a2a"/>
<text x="390.67" y="308.00" font-size="11.4" font-weight="bold" fill="#111" stroke="#111" stroke-width="0.3" textLength="6.16" lengthAdjust="spacingAndGlyphs">L</text>
<line x1="426.00" y1="309.80" x2="426.00" y2="404.25" stroke="#222" stroke-width="1.25"/>
<line x1="423.50" y1="403.50" x2="426.00" y2="403.50" stroke="#222" stroke-width="1.0"/>
<line x1="423.50" y1="373.50" x2="426.00" y2="373.50" stroke="#222" stroke-width="1.0"/>
<line x1="423.50" y1="342.50" x2="426.00" y2="342.50" stroke="#222" stroke-width="1.0"/>
<line x1="423.50" y1="312.50" x2="426.00" y2="312.50" stroke="#222" stroke-width="1.0"/>
<text x="419.10" y="406.49" font-size="7.6" text-anchor="end" fill="#333" stroke="#333" stroke-width="0.15" textLength="3.50" lengthAdjust="spacingAndGlyphs">0</text>
<text x="419.10" y="375.90" font-size="7.6" text-anchor="end" fill="#333" stroke="#333" stroke-width="0.15" textLength="6.70" lengthAdjust="spacingAndGlyphs">50</text>
<text x="419.10" y="345.32" font-size="7.6" text-anchor="end" fill="#333" stroke="#333" stroke-width="0.15" textLength="10.00" lengthAdjust="spacingAndGlyphs">100</text>
<text x="419.10" y="314.74" font-size="7.6" text-anchor="end" fill="#333" stroke="#333" stroke-width="0.15" textLength="10.00" lengthAdjust="spacingAndGlyphs">150</text>
<text x="403.84" y="356.00" font-size="8.6" text-anchor="middle" fill="#333" stroke="#333" stroke-width="0.25" textLength="64.60" lengthAdjust="spacingAndGlyphs" transform="rotate(-90 403.84 356.00)">Rel. % viable (DAPI-)</text>
<rect x="430.50" y="343.32" width="6.20" height="60.43" fill="#c8102e"/>
<rect x="440.17" y="342.58" width="6.20" height="61.17" fill="#3cb034"/>
<rect x="449.84" y="342.16" width="6.20" height="61.59" fill="#1c4f8c"/>
<rect x="459.51" y="343.01" width="6.20" height="60.74" fill="#5a1f6e"/>
<rect x="469.18" y="345.15" width="6.20" height="58.60" fill="#f7931e"/>
<rect x="478.85" y="349.92" width="6.20" height="53.83" fill="#0e6b4b"/>
<rect x="488.52" y="358.43" width="6.20" height="45.32" fill="#9b8dc8"/>
<rect x="498.19" y="393.11" width="6.20" height="10.64" fill="#4b5568"/>
<circle cx="433.00" cy="341.97" r="2.1" fill="#111"/>
<circle cx="435.00" cy="341.97" r="2.1" fill="#111"/>
<circle cx="442.67" cy="340.14" r="2.1" fill="#111"/>
<circle cx="444.67" cy="343.19" r="2.1" fill="#111"/>
<circle cx="452.34" cy="340.75" r="2.1" fill="#111"/>
<circle cx="454.34" cy="341.36" r="2.1" fill="#111"/>
<circle cx="462.01" cy="341.97" r="2.1" fill="#111"/>
<circle cx="464.01" cy="342.58" r="2.1" fill="#111"/>
<circle cx="471.68" cy="344.11" r="2.1" fill="#111"/>
<circle cx="473.68" cy="344.42" r="2.1" fill="#111"/>
<circle cx="480.45" cy="346.07" r="2.1" fill="#111"/>
<circle cx="483.45" cy="348.03" r="2.1" fill="#111"/>
<circle cx="481.95" cy="350.23" r="2.1" fill="#111"/>
<circle cx="490.62" cy="355.12" r="2.1" fill="#111"/>
<circle cx="492.82" cy="355.12" r="2.1" fill="#111"/>
<circle cx="491.62" cy="360.81" r="2.1" fill="#111"/>
<circle cx="500.69" cy="389.80" r="2.1" fill="#111"/>
<circle cx="502.69" cy="393.11" r="2.1" fill="#111"/>
<line x1="425.40" y1="403.75" x2="507.79" y2="403.75" stroke="#1a1a1a" stroke-width="1.4"/>
<line x1="433.50" y1="403.75" x2="433.50" y2="407.15" stroke="#222" stroke-width="1.0"/>
<line x1="443.50" y1="403.75" x2="443.50" y2="407.15" stroke="#222" stroke-width="1.0"/>
<line x1="452.50" y1="403.75" x2="452.50" y2="407.15" stroke="#222" stroke-width="1.0"/>
<line x1="462.50" y1="403.75" x2="462.50" y2="407.15" stroke="#222" stroke-width="1.0"/>
<line x1="472.50" y1="403.75" x2="472.50" y2="407.15" stroke="#222" stroke-width="1.0"/>
<line x1="481.50" y1="403.75" x2="481.50" y2="407.15" stroke="#222" stroke-width="1.0"/>
<line x1="491.50" y1="403.75" x2="491.50" y2="407.15" stroke="#222" stroke-width="1.0"/>
<line x1="501.50" y1="403.75" x2="501.50" y2="407.15" stroke="#222" stroke-width="1.0"/>
<text x="436.90" y="413.55" font-size="7.3" text-anchor="end" fill="#333" stroke="#333" stroke-width="0.22" textLength="3.73" lengthAdjust="spacingAndGlyphs" transform="rotate(-44 436.90 413.55)">0</text>
<text x="446.57" y="413.55" font-size="7.3" text-anchor="end" fill="#333" stroke="#333" stroke-width="0.22" textLength="11.58" lengthAdjust="spacingAndGlyphs" transform="rotate(-44 446.57 413.55)">Veh</text>
<text x="456.24" y="413.55" font-size="7.3" text-anchor="end" fill="#333" stroke="#333" stroke-width="0.22" textLength="18.80" lengthAdjust="spacingAndGlyphs" transform="rotate(-44 456.24 413.55)">0.1µM</text>
<text x="465.91" y="413.55" font-size="7.3" text-anchor="end" fill="#333" stroke="#333" stroke-width="0.22" textLength="13.20" lengthAdjust="spacingAndGlyphs" transform="rotate(-44 465.91 413.55)">1µM</text>
<text x="475.58" y="413.55" font-size="7.3" text-anchor="end" fill="#333" stroke="#333" stroke-width="0.22" textLength="16.93" lengthAdjust="spacingAndGlyphs" transform="rotate(-44 475.58 413.55)">10µM</text>
<text x="485.25" y="413.55" font-size="7.3" text-anchor="end" fill="#333" stroke="#333" stroke-width="0.22" textLength="16.93" lengthAdjust="spacingAndGlyphs" transform="rotate(-44 485.25 413.55)">25µM</text>
<text x="494.92" y="413.55" font-size="7.3" text-anchor="end" fill="#333" stroke="#333" stroke-width="0.22" textLength="16.93" lengthAdjust="spacingAndGlyphs" transform="rotate(-44 494.92 413.55)">50µM</text>
<text x="504.59" y="413.55" font-size="7.3" text-anchor="end" fill="#333" stroke="#333" stroke-width="0.22" textLength="20.67" lengthAdjust="spacingAndGlyphs" transform="rotate(-44 504.59 413.55)">100µM</text>
<text x="467.40" y="316.80" font-size="7.0" text-anchor="middle" fill="#333" stroke="#333" stroke-width="0.12" textLength="25.90" lengthAdjust="spacingAndGlyphs">AML#20</text>
<text x="468.20" y="440.00" font-size="9.1" text-anchor="middle" fill="#333" stroke="#333" stroke-width="0.25" textLength="47.80" lengthAdjust="spacingAndGlyphs">SETD2-IN-1 TFA</text>
<line x1="480.50" y1="340.50" x2="485.50" y2="340.50" stroke="#333" stroke-width="1.0"/>
<circle cx="483.00" cy="337.00" r="1.25" fill="#2a2a2a"/>
<line x1="491.25" y1="350.50" x2="503.25" y2="350.50" stroke="#333" stroke-width="1.0"/>
<circle cx="493.31" cy="347.00" r="1.25" fill="#2a2a2a"/>
<circle cx="495.94" cy="347.00" r="1.25" fill="#2a2a2a"/>
<circle cx="498.56" cy="347.00" r="1.25" fill="#2a2a2a"/>
<circle cx="501.19" cy="347.00" r="1.25" fill="#2a2a2a"/>
<text x="0.29" y="460.10" font-size="11.4" font-weight="bold" fill="#111" stroke="#111" stroke-width="0.3" textLength="11.31" lengthAdjust="spacingAndGlyphs">M</text>
<line x1="40.50" y1="462.05" x2="40.50" y2="556.25" stroke="#222" stroke-width="1.25"/>
<line x1="38.00" y1="555.50" x2="40.50" y2="555.50" stroke="#222" stroke-width="1.0"/>
<line x1="38.00" y1="525.50" x2="40.50" y2="525.50" stroke="#222" stroke-width="1.0"/>
<line x1="38.00" y1="494.50" x2="40.50" y2="494.50" stroke="#222" stroke-width="1.0"/>
<line x1="38.00" y1="464.50" x2="40.50" y2="464.50" stroke="#222" stroke-width="1.0"/>
<text x="33.60" y="558.49" font-size="7.6" text-anchor="end" fill="#333" stroke="#333" stroke-width="0.15" textLength="3.50" lengthAdjust="spacingAndGlyphs">0</text>
<text x="33.60" y="527.99" font-size="7.6" text-anchor="end" fill="#333" stroke="#333" stroke-width="0.15" textLength="6.70" lengthAdjust="spacingAndGlyphs">50</text>
<text x="33.60" y="497.49" font-size="7.6" text-anchor="end" fill="#333" stroke="#333" stroke-width="0.15" textLength="10.00" lengthAdjust="spacingAndGlyphs">100</text>
<text x="33.60" y="466.99" font-size="7.6" text-anchor="end" fill="#333" stroke="#333" stroke-width="0.15" textLength="10.00" lengthAdjust="spacingAndGlyphs">150</text>
<text x="17.84" y="508.50" font-size="8.6" text-anchor="middle" fill="#333" stroke="#333" stroke-width="0.25" textLength="63.80" lengthAdjust="spacingAndGlyphs" transform="rotate(-90 17.84 508.50)">Rel. % viable (DAPI-)</text>
<rect x="44.25" y="495.36" width="6.20" height="60.39" fill="#c8102e"/>
<rect x="53.92" y="496.58" width="6.20" height="59.17" fill="#3cb034"/>
<rect x="63.59" y="498.41" width="6.20" height="57.34" fill="#1c4f8c"/>
<rect x="73.26" y="494.75" width="6.20" height="61.00" fill="#5a1f6e"/>
<rect x="82.93" y="497.19" width="6.20" height="58.56" fill="#f7931e"/>
<rect x="92.60" y="504.51" width="6.20" height="51.24" fill="#0e6b4b"/>
<rect x="102.27" y="530.74" width="6.20" height="25.01" fill="#9b8dc8"/>
<rect x="111.94" y="552.09" width="6.20" height="3.66" fill="#4b5568"/>
<line x1="47.50" y1="495.36" x2="47.50" y2="490.48" stroke="#231f20" stroke-width="1.0"/>
<line x1="45.75" y1="490.50" x2="48.95" y2="490.50" stroke="#231f20" stroke-width="1.0"/>
<circle cx="46.75" cy="490.48" r="2.1" fill="#111"/>
<circle cx="48.75" cy="495.36" r="2.1" fill="#111"/>
<circle cx="56.42" cy="495.97" r="2.1" fill="#111"/>
<circle cx="58.42" cy="496.58" r="2.1" fill="#111"/>
<circle cx="66.09" cy="497.80" r="2.1" fill="#111"/>
<circle cx="68.09" cy="498.41" r="2.1" fill="#111"/>
<circle cx="75.76" cy="494.14" r="2.1" fill="#111"/>
<circle cx="77.76" cy="494.75" r="2.1" fill="#111"/>
<circle cx="85.43" cy="495.36" r="2.1" fill="#111"/>
<circle cx="87.43" cy="497.19" r="2.1" fill="#111"/>
<circle cx="95.10" cy="503.90" r="2.1" fill="#111"/>
<circle cx="97.10" cy="504.51" r="2.1" fill="#111"/>
<circle cx="104.77" cy="530.13" r="2.1" fill="#111"/>
<circle cx="106.77" cy="530.74" r="2.1" fill="#111"/>
<circle cx="114.44" cy="551.48" r="2.1" fill="#111"/>
<circle cx="116.44" cy="552.09" r="2.1" fill="#111"/>
<line x1="39.90" y1="555.75" x2="121.54" y2="555.75" stroke="#1a1a1a" stroke-width="1.4"/>
<line x1="47.50" y1="555.75" x2="47.50" y2="559.15" stroke="#222" stroke-width="1.0"/>
<line x1="57.50" y1="555.75" x2="57.50" y2="559.15" stroke="#222" stroke-width="1.0"/>
<line x1="66.50" y1="555.75" x2="66.50" y2="559.15" stroke="#222" stroke-width="1.0"/>
<line x1="76.50" y1="555.75" x2="76.50" y2="559.15" stroke="#222" stroke-width="1.0"/>
<line x1="86.50" y1="555.75" x2="86.50" y2="559.15" stroke="#222" stroke-width="1.0"/>
<line x1="95.50" y1="555.75" x2="95.50" y2="559.15" stroke="#222" stroke-width="1.0"/>
<line x1="105.50" y1="555.75" x2="105.50" y2="559.15" stroke="#222" stroke-width="1.0"/>
<line x1="115.50" y1="555.75" x2="115.50" y2="559.15" stroke="#222" stroke-width="1.0"/>
<text x="50.65" y="565.55" font-size="7.3" text-anchor="end" fill="#333" stroke="#333" stroke-width="0.22" textLength="3.73" lengthAdjust="spacingAndGlyphs" transform="rotate(-44 50.65 565.55)">0</text>
<text x="60.32" y="565.55" font-size="7.3" text-anchor="end" fill="#333" stroke="#333" stroke-width="0.22" textLength="11.58" lengthAdjust="spacingAndGlyphs" transform="rotate(-44 60.32 565.55)">Veh</text>
<text x="69.99" y="565.55" font-size="7.3" text-anchor="end" fill="#333" stroke="#333" stroke-width="0.22" textLength="18.80" lengthAdjust="spacingAndGlyphs" transform="rotate(-44 69.99 565.55)">0.1µM</text>
<text x="79.66" y="565.55" font-size="7.3" text-anchor="end" fill="#333" stroke="#333" stroke-width="0.22" textLength="13.20" lengthAdjust="spacingAndGlyphs" transform="rotate(-44 79.66 565.55)">1µM</text>
<text x="89.33" y="565.55" font-size="7.3" text-anchor="end" fill="#333" stroke="#333" stroke-width="0.22" textLength="16.93" lengthAdjust="spacingAndGlyphs" transform="rotate(-44 89.33 565.55)">10µM</text>
<text x="99.00" y="565.55" font-size="7.3" text-anchor="end" fill="#333" stroke="#333" stroke-width="0.22" textLength="16.93" lengthAdjust="spacingAndGlyphs" transform="rotate(-44 99.00 565.55)">25µM</text>
<text x="108.67" y="565.55" font-size="7.3" text-anchor="end" fill="#333" stroke="#333" stroke-width="0.22" textLength="16.93" lengthAdjust="spacingAndGlyphs" transform="rotate(-44 108.67 565.55)">50µM</text>
<text x="118.34" y="565.55" font-size="7.3" text-anchor="end" fill="#333" stroke="#333" stroke-width="0.22" textLength="20.67" lengthAdjust="spacingAndGlyphs" transform="rotate(-44 118.34 565.55)">100µM</text>
<text x="81.70" y="468.80" font-size="7.0" text-anchor="middle" fill="#333" stroke="#333" stroke-width="0.12" textLength="25.90" lengthAdjust="spacingAndGlyphs">AML#21</text>
<text x="81.70" y="592.00" font-size="9.1" text-anchor="middle" fill="#333" stroke="#333" stroke-width="0.25" textLength="47.80" lengthAdjust="spacingAndGlyphs">SETD2-IN-1 TFA</text>
<line x1="96.25" y1="499.50" x2="115.50" y2="499.50" stroke="#333" stroke-width="1.0"/>
<circle cx="101.94" cy="495.50" r="1.25" fill="#2a2a2a"/>
<circle cx="104.56" cy="495.50" r="1.25" fill="#2a2a2a"/>
<circle cx="107.19" cy="495.50" r="1.25" fill="#2a2a2a"/>
<circle cx="109.81" cy="495.50" r="1.25" fill="#2a2a2a"/>
<text x="132.00" y="460.10" font-size="11.4" font-weight="bold" fill="#111" stroke="#111" stroke-width="0.3" textLength="9.41" lengthAdjust="spacingAndGlyphs">N</text>
<line x1="168.75" y1="462.05" x2="168.75" y2="556.25" stroke="#222" stroke-width="1.25"/>
<line x1="166.25" y1="555.50" x2="168.75" y2="555.50" stroke="#222" stroke-width="1.0"/>
<line x1="166.25" y1="525.50" x2="168.75" y2="525.50" stroke="#222" stroke-width="1.0"/>
<line x1="166.25" y1="494.50" x2="168.75" y2="494.50" stroke="#222" stroke-width="1.0"/>
<line x1="166.25" y1="464.50" x2="168.75" y2="464.50" stroke="#222" stroke-width="1.0"/>
<text x="161.85" y="558.49" font-size="7.6" text-anchor="end" fill="#333" stroke="#333" stroke-width="0.15" textLength="3.50" lengthAdjust="spacingAndGlyphs">0</text>
<text x="161.85" y="527.99" font-size="7.6" text-anchor="end" fill="#333" stroke="#333" stroke-width="0.15" textLength="6.70" lengthAdjust="spacingAndGlyphs">50</text>
<text x="161.85" y="497.49" font-size="7.6" text-anchor="end" fill="#333" stroke="#333" stroke-width="0.15" textLength="10.00" lengthAdjust="spacingAndGlyphs">100</text>
<text x="161.85" y="466.99" font-size="7.6" text-anchor="end" fill="#333" stroke="#333" stroke-width="0.15" textLength="10.00" lengthAdjust="spacingAndGlyphs">150</text>
<text x="146.34" y="508.50" font-size="8.6" text-anchor="middle" fill="#333" stroke="#333" stroke-width="0.25" textLength="63.80" lengthAdjust="spacingAndGlyphs" transform="rotate(-90 146.34 508.50)">Rel. % viable (DAPI-)</text>
<rect x="173.00" y="495.48" width="6.20" height="60.27" fill="#c8102e"/>
<rect x="182.67" y="497.19" width="6.20" height="58.56" fill="#3cb034"/>
<rect x="192.34" y="495.97" width="6.20" height="59.78" fill="#1c4f8c"/>
<rect x="202.01" y="496.58" width="6.20" height="59.17" fill="#5a1f6e"/>
<rect x="211.68" y="499.63" width="6.20" height="56.12" fill="#f7931e"/>
<rect x="221.35" y="503.60" width="6.20" height="52.16" fill="#0e6b4b"/>
<rect x="231.02" y="516.10" width="6.20" height="39.65" fill="#9b8dc8"/>
<rect x="240.69" y="544.16" width="6.20" height="11.59" fill="#4b5568"/>
<circle cx="175.50" cy="492.92" r="2.1" fill="#111"/>
<circle cx="177.50" cy="494.14" r="2.1" fill="#111"/>
<circle cx="185.17" cy="492.92" r="2.1" fill="#111"/>
<circle cx="187.17" cy="496.58" r="2.1" fill="#111"/>
<circle cx="194.84" cy="494.75" r="2.1" fill="#111"/>
<circle cx="196.84" cy="495.36" r="2.1" fill="#111"/>
<circle cx="204.51" cy="493.53" r="2.1" fill="#111"/>
<circle cx="206.51" cy="495.97" r="2.1" fill="#111"/>
<circle cx="214.18" cy="497.19" r="2.1" fill="#111"/>
<circle cx="216.18" cy="499.02" r="2.1" fill="#111"/>
<circle cx="223.85" cy="501.46" r="2.1" fill="#111"/>
<circle cx="225.85" cy="503.29" r="2.1" fill="#111"/>
<circle cx="233.52" cy="514.88" r="2.1" fill="#111"/>
<circle cx="235.52" cy="515.49" r="2.1" fill="#111"/>
<circle cx="243.19" cy="543.25" r="2.1" fill="#111"/>
<circle cx="245.19" cy="543.55" r="2.1" fill="#111"/>
<line x1="168.15" y1="555.75" x2="250.29" y2="555.75" stroke="#1a1a1a" stroke-width="1.4"/>
<line x1="176.50" y1="555.75" x2="176.50" y2="559.15" stroke="#222" stroke-width="1.0"/>
<line x1="185.50" y1="555.75" x2="185.50" y2="559.15" stroke="#222" stroke-width="1.0"/>
<line x1="195.50" y1="555.75" x2="195.50" y2="559.15" stroke="#222" stroke-width="1.0"/>
<line x1="205.50" y1="555.75" x2="205.50" y2="559.15" stroke="#222" stroke-width="1.0"/>
<line x1="214.50" y1="555.75" x2="214.50" y2="559.15" stroke="#222" stroke-width="1.0"/>
<line x1="224.50" y1="555.75" x2="224.50" y2="559.15" stroke="#222" stroke-width="1.0"/>
<line x1="234.50" y1="555.75" x2="234.50" y2="559.15" stroke="#222" stroke-width="1.0"/>
<line x1="243.50" y1="555.75" x2="243.50" y2="559.15" stroke="#222" stroke-width="1.0"/>
<text x="179.40" y="565.55" font-size="7.3" text-anchor="end" fill="#333" stroke="#333" stroke-width="0.22" textLength="3.73" lengthAdjust="spacingAndGlyphs" transform="rotate(-44 179.40 565.55)">0</text>
<text x="189.07" y="565.55" font-size="7.3" text-anchor="end" fill="#333" stroke="#333" stroke-width="0.22" textLength="11.58" lengthAdjust="spacingAndGlyphs" transform="rotate(-44 189.07 565.55)">Veh</text>
<text x="198.74" y="565.55" font-size="7.3" text-anchor="end" fill="#333" stroke="#333" stroke-width="0.22" textLength="18.80" lengthAdjust="spacingAndGlyphs" transform="rotate(-44 198.74 565.55)">0.1µM</text>
<text x="208.41" y="565.55" font-size="7.3" text-anchor="end" fill="#333" stroke="#333" stroke-width="0.22" textLength="13.20" lengthAdjust="spacingAndGlyphs" transform="rotate(-44 208.41 565.55)">1µM</text>
<text x="218.08" y="565.55" font-size="7.3" text-anchor="end" fill="#333" stroke="#333" stroke-width="0.22" textLength="16.93" lengthAdjust="spacingAndGlyphs" transform="rotate(-44 218.08 565.55)">10µM</text>
<text x="227.75" y="565.55" font-size="7.3" text-anchor="end" fill="#333" stroke="#333" stroke-width="0.22" textLength="16.93" lengthAdjust="spacingAndGlyphs" transform="rotate(-44 227.75 565.55)">25µM</text>
<text x="237.42" y="565.55" font-size="7.3" text-anchor="end" fill="#333" stroke="#333" stroke-width="0.22" textLength="16.93" lengthAdjust="spacingAndGlyphs" transform="rotate(-44 237.42 565.55)">50µM</text>
<text x="247.09" y="565.55" font-size="7.3" text-anchor="end" fill="#333" stroke="#333" stroke-width="0.22" textLength="20.67" lengthAdjust="spacingAndGlyphs" transform="rotate(-44 247.09 565.55)">100µM</text>
<text x="210.30" y="468.80" font-size="7.0" text-anchor="middle" fill="#333" stroke="#333" stroke-width="0.12" textLength="25.90" lengthAdjust="spacingAndGlyphs">AML#22</text>
<text x="210.50" y="592.00" font-size="9.1" text-anchor="middle" fill="#333" stroke="#333" stroke-width="0.25" textLength="47.80" lengthAdjust="spacingAndGlyphs">SETD2-IN-1 TFA</text>
<line x1="220.50" y1="496.50" x2="228.75" y2="496.50" stroke="#333" stroke-width="1.0"/>
<circle cx="222.03" cy="493.25" r="1.25" fill="#2a2a2a"/>
<circle cx="224.62" cy="493.25" r="1.25" fill="#2a2a2a"/>
<circle cx="227.22" cy="493.25" r="1.25" fill="#2a2a2a"/>
<line x1="233.75" y1="510.50" x2="246.25" y2="510.50" stroke="#333" stroke-width="1.0"/>
<circle cx="236.06" cy="506.75" r="1.25" fill="#2a2a2a"/>
<circle cx="238.69" cy="506.75" r="1.25" fill="#2a2a2a"/>
<circle cx="241.31" cy="506.75" r="1.25" fill="#2a2a2a"/>
<circle cx="243.94" cy="506.75" r="1.25" fill="#2a2a2a"/>
<text x="260.53" y="460.00" font-size="11.4" font-weight="bold" fill="#111" stroke="#111" stroke-width="0.3" textLength="10.64" lengthAdjust="spacingAndGlyphs">O</text>
<line x1="307.50" y1="462.80" x2="307.50" y2="540.50" stroke="#222" stroke-width="1.25"/>
<line x1="305.00" y1="540.50" x2="307.50" y2="540.50" stroke="#222" stroke-width="1.0"/>
<line x1="305.00" y1="515.50" x2="307.50" y2="515.50" stroke="#222" stroke-width="1.0"/>
<line x1="305.00" y1="490.50" x2="307.50" y2="490.50" stroke="#222" stroke-width="1.0"/>
<line x1="305.00" y1="465.50" x2="307.50" y2="465.50" stroke="#222" stroke-width="1.0"/>
<text x="301.80" y="542.59" font-size="7.2" text-anchor="end" fill="#333" stroke="#333" stroke-width="0.15" textLength="3.70" lengthAdjust="spacingAndGlyphs">0</text>
<text x="301.80" y="517.59" font-size="7.2" text-anchor="end" fill="#333" stroke="#333" stroke-width="0.15" textLength="7.40" lengthAdjust="spacingAndGlyphs">50</text>
<text x="301.80" y="492.59" font-size="7.2" text-anchor="end" fill="#333" stroke="#333" stroke-width="0.15" textLength="11.20" lengthAdjust="spacingAndGlyphs">100</text>
<text x="301.80" y="467.59" font-size="7.2" text-anchor="end" fill="#333" stroke="#333" stroke-width="0.15" textLength="11.20" lengthAdjust="spacingAndGlyphs">150</text>
<text x="283.96" y="499.40" font-size="8.2" text-anchor="middle" fill="#333" stroke="#333" stroke-width="0.22" textLength="58.75" lengthAdjust="spacingAndGlyphs" transform="rotate(-90 283.96 499.40)">Rel. cell counts %</text>
<rect x="311.60" y="490.00" width="6.40" height="50.00" fill="#c8102e"/>
<rect x="321.92" y="528.20" width="6.40" height="11.80" fill="#1c4f8c"/>
<rect x="332.24" y="504.60" width="6.40" height="35.40" fill="#3cb034"/>
<rect x="342.56" y="484.60" width="6.40" height="55.40" fill="#5a1f6e"/>
<rect x="352.88" y="485.00" width="6.40" height="55.00" fill="#f7931e"/>
<rect x="363.20" y="491.85" width="6.40" height="48.15" fill="#0e6b4b"/>
<rect x="373.52" y="520.00" width="6.40" height="20.00" fill="#9b8dc8"/>
<rect x="383.84" y="530.30" width="6.40" height="9.70" fill="#4d5b78"/>
<rect x="394.16" y="531.20" width="6.40" height="8.80" fill="#3c9fd2"/>
<rect x="404.48" y="535.00" width="6.40" height="5.00" fill="#a8286e"/>
<rect x="414.80" y="506.15" width="6.40" height="33.85" fill="#d0742a"/>
<rect x="425.12" y="505.50" width="6.40" height="34.50" fill="#aac08c"/>
<rect x="435.44" y="527.70" width="6.40" height="12.30" fill="#7a4a20"/>
<line x1="325.50" y1="528.20" x2="325.50" y2="520.50" stroke="#231f20" stroke-width="1.0"/>
<line x1="323.52" y1="520.50" x2="326.72" y2="520.50" stroke="#231f20" stroke-width="1.0"/>
<line x1="325.50" y1="528.20" x2="325.50" y2="535.00" stroke="#231f20" stroke-width="1.0"/>
<line x1="323.52" y1="535.50" x2="326.72" y2="535.50" stroke="#231f20" stroke-width="1.0"/>
<line x1="335.50" y1="504.60" x2="335.50" y2="498.00" stroke="#231f20" stroke-width="1.0"/>
<line x1="333.84" y1="498.50" x2="337.04" y2="498.50" stroke="#231f20" stroke-width="1.0"/>
<line x1="335.50" y1="504.60" x2="335.50" y2="510.00" stroke="#231f20" stroke-width="1.0"/>
<line x1="333.84" y1="510.50" x2="337.04" y2="510.50" stroke="#231f20" stroke-width="1.0"/>
<line x1="366.50" y1="491.85" x2="366.50" y2="488.00" stroke="#231f20" stroke-width="1.0"/>
<line x1="364.80" y1="488.50" x2="368.00" y2="488.50" stroke="#231f20" stroke-width="1.0"/>
<line x1="366.50" y1="491.85" x2="366.50" y2="496.00" stroke="#231f20" stroke-width="1.0"/>
<line x1="364.80" y1="496.50" x2="368.00" y2="496.50" stroke="#231f20" stroke-width="1.0"/>
<line x1="376.50" y1="520.00" x2="376.50" y2="505.00" stroke="#231f20" stroke-width="1.0"/>
<line x1="375.12" y1="505.50" x2="378.32" y2="505.50" stroke="#231f20" stroke-width="1.0"/>
<line x1="376.50" y1="520.00" x2="376.50" y2="535.00" stroke="#231f20" stroke-width="1.0"/>
<line x1="375.12" y1="535.50" x2="378.32" y2="535.50" stroke="#231f20" stroke-width="1.0"/>
<line x1="387.50" y1="530.30" x2="387.50" y2="524.50" stroke="#231f20" stroke-width="1.0"/>
<line x1="385.44" y1="524.50" x2="388.64" y2="524.50" stroke="#231f20" stroke-width="1.0"/>
<line x1="387.50" y1="530.30" x2="387.50" y2="535.50" stroke="#231f20" stroke-width="1.0"/>
<line x1="385.44" y1="535.50" x2="388.64" y2="535.50" stroke="#231f20" stroke-width="1.0"/>
<line x1="397.50" y1="531.20" x2="397.50" y2="525.70" stroke="#231f20" stroke-width="1.0"/>
<line x1="395.76" y1="525.50" x2="398.96" y2="525.50" stroke="#231f20" stroke-width="1.0"/>
<line x1="397.50" y1="531.20" x2="397.50" y2="535.50" stroke="#231f20" stroke-width="1.0"/>
<line x1="395.76" y1="535.50" x2="398.96" y2="535.50" stroke="#231f20" stroke-width="1.0"/>
<line x1="407.50" y1="535.00" x2="407.50" y2="529.00" stroke="#231f20" stroke-width="1.0"/>
<line x1="406.08" y1="529.50" x2="409.28" y2="529.50" stroke="#231f20" stroke-width="1.0"/>
<line x1="407.50" y1="535.00" x2="407.50" y2="538.50" stroke="#231f20" stroke-width="1.0"/>
<line x1="406.08" y1="538.50" x2="409.28" y2="538.50" stroke="#231f20" stroke-width="1.0"/>
<line x1="418.50" y1="506.15" x2="418.50" y2="502.00" stroke="#231f20" stroke-width="1.0"/>
<line x1="416.40" y1="502.50" x2="419.60" y2="502.50" stroke="#231f20" stroke-width="1.0"/>
<line x1="428.50" y1="505.50" x2="428.50" y2="501.00" stroke="#231f20" stroke-width="1.0"/>
<line x1="426.72" y1="501.50" x2="429.92" y2="501.50" stroke="#231f20" stroke-width="1.0"/>
<line x1="428.50" y1="505.50" x2="428.50" y2="509.00" stroke="#231f20" stroke-width="1.0"/>
<line x1="426.72" y1="509.50" x2="429.92" y2="509.50" stroke="#231f20" stroke-width="1.0"/>
<line x1="438.50" y1="527.70" x2="438.50" y2="516.20" stroke="#231f20" stroke-width="1.0"/>
<line x1="437.04" y1="516.50" x2="440.24" y2="516.50" stroke="#231f20" stroke-width="1.0"/>
<line x1="438.50" y1="527.70" x2="438.50" y2="536.00" stroke="#231f20" stroke-width="1.0"/>
<line x1="437.04" y1="536.50" x2="440.24" y2="536.50" stroke="#231f20" stroke-width="1.0"/>
<circle cx="314.80" cy="490.00" r="1.9" fill="#111"/>
<circle cx="313.00" cy="490.00" r="1.9" fill="#111"/>
<circle cx="316.60" cy="490.00" r="1.9" fill="#111"/>
<circle cx="325.12" cy="520.50" r="1.9" fill="#111"/>
<circle cx="323.32" cy="524.50" r="1.9" fill="#111"/>
<circle cx="326.92" cy="529.00" r="1.9" fill="#111"/>
<circle cx="323.92" cy="530.75" r="1.9" fill="#111"/>
<circle cx="335.44" cy="497.70" r="1.9" fill="#111"/>
<circle cx="333.64" cy="506.15" r="1.9" fill="#111"/>
<circle cx="337.24" cy="507.00" r="1.9" fill="#111"/>
<circle cx="345.76" cy="484.50" r="1.9" fill="#111"/>
<circle cx="343.96" cy="485.00" r="1.9" fill="#111"/>
<circle cx="347.56" cy="484.00" r="1.9" fill="#111"/>
<circle cx="356.08" cy="484.50" r="1.9" fill="#111"/>
<circle cx="354.28" cy="485.00" r="1.9" fill="#111"/>
<circle cx="357.88" cy="486.00" r="1.9" fill="#111"/>
<circle cx="366.40" cy="487.20" r="1.9" fill="#111"/>
<circle cx="364.60" cy="489.25" r="1.9" fill="#111"/>
<circle cx="368.20" cy="497.70" r="1.9" fill="#111"/>
<circle cx="376.72" cy="505.00" r="1.9" fill="#111"/>
<circle cx="376.72" cy="508.20" r="1.9" fill="#111"/>
<circle cx="376.72" cy="531.00" r="1.9" fill="#111"/>
<circle cx="376.72" cy="535.50" r="1.9" fill="#111"/>
<circle cx="387.04" cy="524.50" r="1.9" fill="#111"/>
<circle cx="387.04" cy="531.00" r="1.9" fill="#111"/>
<circle cx="387.04" cy="535.50" r="1.9" fill="#111"/>
<circle cx="397.36" cy="525.70" r="1.9" fill="#111"/>
<circle cx="397.36" cy="531.50" r="1.9" fill="#111"/>
<circle cx="397.36" cy="535.50" r="1.9" fill="#111"/>
<circle cx="407.68" cy="529.00" r="1.9" fill="#111"/>
<circle cx="408.68" cy="536.00" r="1.9" fill="#111"/>
<circle cx="406.68" cy="538.00" r="1.9" fill="#111"/>
<circle cx="418.00" cy="502.00" r="1.9" fill="#111"/>
<circle cx="416.20" cy="507.00" r="1.9" fill="#111"/>
<circle cx="419.80" cy="507.00" r="1.9" fill="#111"/>
<circle cx="429.82" cy="501.00" r="1.9" fill="#111"/>
<circle cx="426.82" cy="504.15" r="1.9" fill="#111"/>
<circle cx="429.52" cy="506.50" r="1.9" fill="#111"/>
<circle cx="428.32" cy="510.00" r="1.9" fill="#111"/>
<circle cx="438.64" cy="516.20" r="1.9" fill="#111"/>
<circle cx="438.64" cy="521.50" r="1.9" fill="#111"/>
<circle cx="438.64" cy="536.00" r="1.9" fill="#111"/>
<line x1="306.90" y1="540.00" x2="445.40" y2="540.00" stroke="#1a1a1a" stroke-width="1.4"/>
<line x1="314.50" y1="540.00" x2="314.50" y2="543.40" stroke="#222" stroke-width="1.0"/>
<line x1="325.50" y1="540.00" x2="325.50" y2="543.40" stroke="#222" stroke-width="1.0"/>
<line x1="335.50" y1="540.00" x2="335.50" y2="543.40" stroke="#222" stroke-width="1.0"/>
<line x1="345.50" y1="540.00" x2="345.50" y2="543.40" stroke="#222" stroke-width="1.0"/>
<line x1="356.50" y1="540.00" x2="356.50" y2="543.40" stroke="#222" stroke-width="1.0"/>
<line x1="366.50" y1="540.00" x2="366.50" y2="543.40" stroke="#222" stroke-width="1.0"/>
<line x1="376.50" y1="540.00" x2="376.50" y2="543.40" stroke="#222" stroke-width="1.0"/>
<line x1="387.50" y1="540.00" x2="387.50" y2="543.40" stroke="#222" stroke-width="1.0"/>
<line x1="397.50" y1="540.00" x2="397.50" y2="543.40" stroke="#222" stroke-width="1.0"/>
<line x1="407.50" y1="540.00" x2="407.50" y2="543.40" stroke="#222" stroke-width="1.0"/>
<line x1="418.50" y1="540.00" x2="418.50" y2="543.40" stroke="#222" stroke-width="1.0"/>
<line x1="428.50" y1="540.00" x2="428.50" y2="543.40" stroke="#222" stroke-width="1.0"/>
<line x1="438.50" y1="540.00" x2="438.50" y2="543.40" stroke="#222" stroke-width="1.0"/>
<line x1="315.00" y1="486.50" x2="325.00" y2="486.50" stroke="#333" stroke-width="1.0"/>
<circle cx="316.06" cy="483.50" r="1.25" fill="#2a2a2a"/>
<circle cx="318.69" cy="483.50" r="1.25" fill="#2a2a2a"/>
<circle cx="321.31" cy="483.50" r="1.25" fill="#2a2a2a"/>
<circle cx="323.94" cy="483.50" r="1.25" fill="#2a2a2a"/>
<line x1="325.00" y1="494.50" x2="335.00" y2="494.50" stroke="#333" stroke-width="1.0"/>
<circle cx="328.70" cy="490.80" r="1.25" fill="#2a2a2a"/>
<circle cx="331.30" cy="490.80" r="1.25" fill="#2a2a2a"/>
<line x1="315.00" y1="478.50" x2="376.50" y2="478.50" stroke="#333" stroke-width="1.0"/>
<circle cx="341.81" cy="475.80" r="1.25" fill="#2a2a2a"/>
<circle cx="344.44" cy="475.80" r="1.25" fill="#2a2a2a"/>
<circle cx="347.06" cy="475.80" r="1.25" fill="#2a2a2a"/>
<circle cx="349.69" cy="475.80" r="1.25" fill="#2a2a2a"/>
<line x1="346.25" y1="470.50" x2="437.00" y2="470.50" stroke="#333" stroke-width="1.0"/>
<circle cx="390.32" cy="467.00" r="1.25" fill="#2a2a2a"/>
<circle cx="392.93" cy="467.00" r="1.25" fill="#2a2a2a"/>
<circle cx="378.56" cy="456.30" r="1.25" fill="#2a2a2a"/>
<circle cx="381.19" cy="456.30" r="1.25" fill="#2a2a2a"/>
<circle cx="383.81" cy="456.30" r="1.25" fill="#2a2a2a"/>
<circle cx="386.44" cy="456.30" r="1.25" fill="#2a2a2a"/>
<text x="307.00" y="553.52" font-size="7.0" text-anchor="end" fill="#333" stroke="#333" stroke-width="0.1" textLength="39.70" lengthAdjust="spacingAndGlyphs">Met (0.1mM)</text>
<line x1="313.30" y1="551.00" x2="316.30" y2="551.00" stroke="#333" stroke-width="0.75"/>
<line x1="314.80" y1="549.50" x2="314.80" y2="552.50" stroke="#333" stroke-width="0.75"/>
<line x1="323.52" y1="551.10" x2="326.72" y2="551.10" stroke="#444" stroke-width="0.75"/>
<line x1="333.84" y1="551.10" x2="337.04" y2="551.10" stroke="#444" stroke-width="0.75"/>
<line x1="344.26" y1="551.00" x2="347.26" y2="551.00" stroke="#333" stroke-width="0.75"/>
<line x1="345.76" y1="549.50" x2="345.76" y2="552.50" stroke="#333" stroke-width="0.75"/>
<line x1="354.58" y1="551.00" x2="357.58" y2="551.00" stroke="#333" stroke-width="0.75"/>
<line x1="356.08" y1="549.50" x2="356.08" y2="552.50" stroke="#333" stroke-width="0.75"/>
<line x1="364.90" y1="551.00" x2="367.90" y2="551.00" stroke="#333" stroke-width="0.75"/>
<line x1="366.40" y1="549.50" x2="366.40" y2="552.50" stroke="#333" stroke-width="0.75"/>
<line x1="375.22" y1="551.00" x2="378.22" y2="551.00" stroke="#333" stroke-width="0.75"/>
<line x1="376.72" y1="549.50" x2="376.72" y2="552.50" stroke="#333" stroke-width="0.75"/>
<line x1="385.44" y1="551.10" x2="388.64" y2="551.10" stroke="#444" stroke-width="0.75"/>
<line x1="395.76" y1="551.10" x2="398.96" y2="551.10" stroke="#444" stroke-width="0.75"/>
<line x1="406.08" y1="551.10" x2="409.28" y2="551.10" stroke="#444" stroke-width="0.75"/>
<line x1="416.40" y1="551.10" x2="419.60" y2="551.10" stroke="#444" stroke-width="0.75"/>
<line x1="426.72" y1="551.10" x2="429.92" y2="551.10" stroke="#444" stroke-width="0.75"/>
<line x1="437.04" y1="551.10" x2="440.24" y2="551.10" stroke="#444" stroke-width="0.75"/>
<text x="307.00" y="563.32" font-size="7.0" text-anchor="end" fill="#333" stroke="#333" stroke-width="0.1" textLength="33.20" lengthAdjust="spacingAndGlyphs">Hcy (1mM)</text>
<line x1="313.20" y1="560.90" x2="316.40" y2="560.90" stroke="#444" stroke-width="0.75"/>
<line x1="323.52" y1="560.90" x2="326.72" y2="560.90" stroke="#444" stroke-width="0.75"/>
<line x1="333.94" y1="560.80" x2="336.94" y2="560.80" stroke="#333" stroke-width="0.75"/>
<line x1="335.44" y1="559.30" x2="335.44" y2="562.30" stroke="#333" stroke-width="0.75"/>
<line x1="344.16" y1="560.90" x2="347.36" y2="560.90" stroke="#444" stroke-width="0.75"/>
<line x1="354.48" y1="560.90" x2="357.68" y2="560.90" stroke="#444" stroke-width="0.75"/>
<line x1="364.80" y1="560.90" x2="368.00" y2="560.90" stroke="#444" stroke-width="0.75"/>
<line x1="375.12" y1="560.90" x2="378.32" y2="560.90" stroke="#444" stroke-width="0.75"/>
<line x1="385.44" y1="560.90" x2="388.64" y2="560.90" stroke="#444" stroke-width="0.75"/>
<line x1="395.76" y1="560.90" x2="398.96" y2="560.90" stroke="#444" stroke-width="0.75"/>
<line x1="406.08" y1="560.90" x2="409.28" y2="560.90" stroke="#444" stroke-width="0.75"/>
<line x1="416.50" y1="560.80" x2="419.50" y2="560.80" stroke="#333" stroke-width="0.75"/>
<line x1="418.00" y1="559.30" x2="418.00" y2="562.30" stroke="#333" stroke-width="0.75"/>
<line x1="426.82" y1="560.80" x2="429.82" y2="560.80" stroke="#333" stroke-width="0.75"/>
<line x1="428.32" y1="559.30" x2="428.32" y2="562.30" stroke="#333" stroke-width="0.75"/>
<line x1="437.14" y1="560.80" x2="440.14" y2="560.80" stroke="#333" stroke-width="0.75"/>
<line x1="438.64" y1="559.30" x2="438.64" y2="562.30" stroke="#333" stroke-width="0.75"/>
<text x="307.00" y="573.32" font-size="7.0" text-anchor="end" fill="#333" stroke="#333" stroke-width="0.1" textLength="38.20" lengthAdjust="spacingAndGlyphs">SETD2i (uM)</text>
<line x1="313.20" y1="570.90" x2="316.40" y2="570.90" stroke="#444" stroke-width="0.75"/>
<line x1="323.52" y1="570.90" x2="326.72" y2="570.90" stroke="#444" stroke-width="0.75"/>
<line x1="333.84" y1="570.90" x2="337.04" y2="570.90" stroke="#444" stroke-width="0.75"/>
<line x1="344.16" y1="570.90" x2="347.36" y2="570.90" stroke="#444" stroke-width="0.75"/>
<text x="356.08" y="573.25" font-size="6.8" text-anchor="middle" fill="#333" stroke="#333" stroke-width="0.22">1</text>
<text x="366.40" y="573.25" font-size="6.8" text-anchor="middle" fill="#333" stroke="#333" stroke-width="0.22">10</text>
<text x="376.72" y="573.25" font-size="6.8" text-anchor="middle" fill="#333" stroke="#333" stroke-width="0.22">50</text>
<text x="387.04" y="573.25" font-size="6.8" text-anchor="middle" fill="#333" stroke="#333" stroke-width="0.22">1</text>
<text x="397.36" y="573.25" font-size="6.8" text-anchor="middle" fill="#333" stroke="#333" stroke-width="0.22">10</text>
<text x="407.68" y="573.25" font-size="6.8" text-anchor="middle" fill="#333" stroke="#333" stroke-width="0.22">50</text>
<text x="418.00" y="573.25" font-size="6.8" text-anchor="middle" fill="#333" stroke="#333" stroke-width="0.22">1</text>
<text x="428.32" y="573.25" font-size="6.8" text-anchor="middle" fill="#333" stroke="#333" stroke-width="0.22">10</text>
<text x="438.64" y="573.25" font-size="6.8" text-anchor="middle" fill="#333" stroke="#333" stroke-width="0.22">50</text>
<text x="307.00" y="584.12" font-size="7.0" text-anchor="end" fill="#333" stroke="#333" stroke-width="0.1" textLength="22.00" lengthAdjust="spacingAndGlyphs">Vehicle</text>
<line x1="313.20" y1="581.70" x2="316.40" y2="581.70" stroke="#444" stroke-width="0.75"/>
<line x1="323.52" y1="581.70" x2="326.72" y2="581.70" stroke="#444" stroke-width="0.75"/>
<line x1="333.84" y1="581.70" x2="337.04" y2="581.70" stroke="#444" stroke-width="0.75"/>
<line x1="344.26" y1="581.60" x2="347.26" y2="581.60" stroke="#333" stroke-width="0.75"/>
<line x1="345.76" y1="580.10" x2="345.76" y2="583.10" stroke="#333" stroke-width="0.75"/>
<line x1="354.58" y1="581.60" x2="357.58" y2="581.60" stroke="#333" stroke-width="0.75"/>
<line x1="356.08" y1="580.10" x2="356.08" y2="583.10" stroke="#333" stroke-width="0.75"/>
<line x1="364.90" y1="581.60" x2="367.90" y2="581.60" stroke="#333" stroke-width="0.75"/>
<line x1="366.40" y1="580.10" x2="366.40" y2="583.10" stroke="#333" stroke-width="0.75"/>
<line x1="375.22" y1="581.60" x2="378.22" y2="581.60" stroke="#333" stroke-width="0.75"/>
<line x1="376.72" y1="580.10" x2="376.72" y2="583.10" stroke="#333" stroke-width="0.75"/>
<line x1="385.54" y1="581.60" x2="388.54" y2="581.60" stroke="#333" stroke-width="0.75"/>
<line x1="387.04" y1="580.10" x2="387.04" y2="583.10" stroke="#333" stroke-width="0.75"/>
<line x1="395.86" y1="581.60" x2="398.86" y2="581.60" stroke="#333" stroke-width="0.75"/>
<line x1="397.36" y1="580.10" x2="397.36" y2="583.10" stroke="#333" stroke-width="0.75"/>
<line x1="406.18" y1="581.60" x2="409.18" y2="581.60" stroke="#333" stroke-width="0.75"/>
<line x1="407.68" y1="580.10" x2="407.68" y2="583.10" stroke="#333" stroke-width="0.75"/>
<line x1="416.50" y1="581.60" x2="419.50" y2="581.60" stroke="#333" stroke-width="0.75"/>
<line x1="418.00" y1="580.10" x2="418.00" y2="583.10" stroke="#333" stroke-width="0.75"/>
<line x1="426.82" y1="581.60" x2="429.82" y2="581.60" stroke="#333" stroke-width="0.75"/>
<line x1="428.32" y1="580.10" x2="428.32" y2="583.10" stroke="#333" stroke-width="0.75"/>
<line x1="437.14" y1="581.60" x2="440.14" y2="581.60" stroke="#333" stroke-width="0.75"/>
<line x1="438.64" y1="580.10" x2="438.64" y2="583.10" stroke="#333" stroke-width="0.75"/>
<text x="0.50" y="615.10" font-size="11.4" font-weight="bold" fill="#111" stroke="#111" stroke-width="0.3" textLength="7.39" lengthAdjust="spacingAndGlyphs">P</text>
<text x="82.00" y="639.12" font-size="7.0" text-anchor="end" fill="#333" stroke="#333" stroke-width="0.1" textLength="39.50" lengthAdjust="spacingAndGlyphs">Met (0.1mM)</text>
<line x1="89.75" y1="636.60" x2="92.75" y2="636.60" stroke="#333" stroke-width="0.75"/>
<line x1="91.25" y1="635.10" x2="91.25" y2="638.10" stroke="#333" stroke-width="0.75"/>
<line x1="107.15" y1="636.70" x2="110.35" y2="636.70" stroke="#444" stroke-width="0.75"/>
<line x1="124.65" y1="636.70" x2="127.85" y2="636.70" stroke="#444" stroke-width="0.75"/>
<line x1="142.00" y1="636.60" x2="145.00" y2="636.60" stroke="#333" stroke-width="0.75"/>
<line x1="143.50" y1="635.10" x2="143.50" y2="638.10" stroke="#333" stroke-width="0.75"/>
<line x1="160.40" y1="636.70" x2="163.60" y2="636.70" stroke="#444" stroke-width="0.75"/>
<line x1="179.40" y1="636.70" x2="182.60" y2="636.70" stroke="#444" stroke-width="0.75"/>
<text x="82.00" y="649.82" font-size="7.0" text-anchor="end" fill="#333" stroke="#333" stroke-width="0.1" textLength="32.75" lengthAdjust="spacingAndGlyphs">Hcy (1mM)</text>
<line x1="89.65" y1="647.40" x2="92.85" y2="647.40" stroke="#444" stroke-width="0.75"/>
<line x1="107.15" y1="647.40" x2="110.35" y2="647.40" stroke="#444" stroke-width="0.75"/>
<line x1="124.75" y1="647.30" x2="127.75" y2="647.30" stroke="#333" stroke-width="0.75"/>
<line x1="126.25" y1="645.80" x2="126.25" y2="648.80" stroke="#333" stroke-width="0.75"/>
<line x1="141.90" y1="647.40" x2="145.10" y2="647.40" stroke="#444" stroke-width="0.75"/>
<line x1="160.40" y1="647.40" x2="163.60" y2="647.40" stroke="#444" stroke-width="0.75"/>
<line x1="179.50" y1="647.30" x2="182.50" y2="647.30" stroke="#333" stroke-width="0.75"/>
<line x1="181.00" y1="645.80" x2="181.00" y2="648.80" stroke="#333" stroke-width="0.75"/>
<text x="82.00" y="660.42" font-size="7.0" text-anchor="end" fill="#333" stroke="#333" stroke-width="0.1" textLength="66.50" lengthAdjust="spacingAndGlyphs">SETD2-IN-1 TFA (uM)</text>
<line x1="89.65" y1="658.00" x2="92.85" y2="658.00" stroke="#444" stroke-width="0.75"/>
<line x1="107.15" y1="658.00" x2="110.35" y2="658.00" stroke="#444" stroke-width="0.75"/>
<line x1="124.65" y1="658.00" x2="127.85" y2="658.00" stroke="#444" stroke-width="0.75"/>
<text x="143.50" y="660.35" font-size="6.8" text-anchor="middle" fill="#333" stroke="#333" stroke-width="0.22">1</text>
<text x="162.00" y="660.35" font-size="6.8" text-anchor="middle" fill="#333" stroke="#333" stroke-width="0.22">1</text>
<text x="181.00" y="660.35" font-size="6.8" text-anchor="middle" fill="#333" stroke="#333" stroke-width="0.22">1</text>
<text x="82.00" y="671.52" font-size="7.0" text-anchor="end" fill="#333" stroke="#333" stroke-width="0.1" textLength="21.25" lengthAdjust="spacingAndGlyphs">Vehicle</text>
<line x1="89.75" y1="669.00" x2="92.75" y2="669.00" stroke="#333" stroke-width="0.75"/>
<line x1="91.25" y1="667.50" x2="91.25" y2="670.50" stroke="#333" stroke-width="0.75"/>
<line x1="107.15" y1="669.10" x2="110.35" y2="669.10" stroke="#444" stroke-width="0.75"/>
<line x1="124.65" y1="669.10" x2="127.85" y2="669.10" stroke="#444" stroke-width="0.75"/>
<line x1="142.00" y1="669.00" x2="145.00" y2="669.00" stroke="#333" stroke-width="0.75"/>
<line x1="143.50" y1="667.50" x2="143.50" y2="670.50" stroke="#333" stroke-width="0.75"/>
<line x1="160.50" y1="669.00" x2="163.50" y2="669.00" stroke="#333" stroke-width="0.75"/>
<line x1="162.00" y1="667.50" x2="162.00" y2="670.50" stroke="#333" stroke-width="0.75"/>
<line x1="179.50" y1="669.00" x2="182.50" y2="669.00" stroke="#333" stroke-width="0.75"/>
<line x1="181.00" y1="667.50" x2="181.00" y2="670.50" stroke="#333" stroke-width="0.75"/>
<rect x="80.30" y="675.30" width="109.30" height="23.20" fill="#dcdcdc" stroke="#4a4a4a" stroke-width="0.9"/>
<rect x="81.50" y="685.10" width="18.00" height="3.00" rx="1.50" fill="#0a0a0a" fill-opacity="1" filter="url(#blur1)"/>
<rect x="100.50" y="685.70" width="15.50" height="2.40" rx="1.20" fill="#888" fill-opacity="0.55" filter="url(#blur1)"/>
<rect x="117.50" y="685.10" width="17.50" height="3.00" rx="1.50" fill="#0a0a0a" fill-opacity="1" filter="url(#blur1)"/>
<rect x="136.00" y="685.60" width="16.00" height="2.60" rx="1.30" fill="#666" fill-opacity="0.7" filter="url(#blur1)"/>
<rect x="154.00" y="686.10" width="17.00" height="2.20" rx="1.10" fill="#aaa" fill-opacity="0.3" filter="url(#blur1)"/>
<rect x="172.00" y="686.10" width="16.50" height="2.20" rx="1.10" fill="#aaa" fill-opacity="0.25" filter="url(#blur1)"/>
<rect x="80.30" y="702.00" width="109.30" height="20.70" fill="#dedede" stroke="#4a4a4a" stroke-width="0.9"/>
<rect x="80.70" y="710.50" width="17.42" height="4.40" rx="2.00" fill="#2a2a2a" fill-opacity="0.85" filter="url(#blur1)"/>
<rect x="98.92" y="710.50" width="17.42" height="4.40" rx="2.00" fill="#2a2a2a" fill-opacity="0.85" filter="url(#blur1)"/>
<rect x="117.13" y="710.50" width="17.42" height="4.40" rx="2.00" fill="#2a2a2a" fill-opacity="0.85" filter="url(#blur1)"/>
<rect x="135.35" y="710.50" width="17.42" height="4.40" rx="2.00" fill="#2a2a2a" fill-opacity="0.85" filter="url(#blur1)"/>
<rect x="153.57" y="710.50" width="17.42" height="4.40" rx="2.00" fill="#2a2a2a" fill-opacity="0.85" filter="url(#blur1)"/>
<rect x="171.78" y="710.50" width="17.42" height="4.40" rx="2.00" fill="#2a2a2a" fill-opacity="0.85" filter="url(#blur1)"/>
<text x="192.40" y="689.50" font-size="7" text-anchor="start" fill="#333" stroke="#333" stroke-width="0.1" textLength="39.90" lengthAdjust="spacingAndGlyphs">H3K36me3</text>
<text x="192.40" y="714.10" font-size="7" text-anchor="start" fill="#333" stroke="#333" stroke-width="0.1" textLength="33.80" lengthAdjust="spacingAndGlyphs">Unmod H3</text>
<text x="237.22" y="615.10" font-size="11.4" font-weight="bold" fill="#111" stroke="#111" stroke-width="0.3" textLength="10.86" lengthAdjust="spacingAndGlyphs">Q</text>
<line x1="285.50" y1="623.80" x2="285.50" y2="702.70" stroke="#222" stroke-width="1.25"/>
<line x1="283.00" y1="702.50" x2="285.50" y2="702.50" stroke="#222" stroke-width="1.0"/>
<line x1="283.00" y1="683.50" x2="285.50" y2="683.50" stroke="#222" stroke-width="1.0"/>
<line x1="283.00" y1="664.50" x2="285.50" y2="664.50" stroke="#222" stroke-width="1.0"/>
<line x1="283.00" y1="645.50" x2="285.50" y2="645.50" stroke="#222" stroke-width="1.0"/>
<line x1="283.00" y1="626.50" x2="285.50" y2="626.50" stroke="#222" stroke-width="1.0"/>
<text x="279.80" y="704.79" font-size="7.2" text-anchor="end" fill="#333" stroke="#333" stroke-width="0.15" textLength="3.70" lengthAdjust="spacingAndGlyphs">0</text>
<text x="279.80" y="679.39" font-size="7.2" text-anchor="end" fill="#333" stroke="#333" stroke-width="0.15" textLength="7.40" lengthAdjust="spacingAndGlyphs">50</text>
<text x="279.80" y="653.99" font-size="7.2" text-anchor="end" fill="#333" stroke="#333" stroke-width="0.15" textLength="11.20" lengthAdjust="spacingAndGlyphs">100</text>
<text x="279.80" y="628.59" font-size="7.2" text-anchor="end" fill="#333" stroke="#333" stroke-width="0.15" textLength="11.20" lengthAdjust="spacingAndGlyphs">150</text>
<text x="250.57" y="664.00" font-size="7.8" text-anchor="middle" fill="#333" stroke="#333" stroke-width="0.12" textLength="32.40" lengthAdjust="spacingAndGlyphs" transform="rotate(-90 250.57 664.00)">Basal OCR</text>
<text x="262.37" y="664.50" font-size="8.4" text-anchor="middle" fill="#333" stroke="#333" stroke-width="0.12" textLength="67.40" lengthAdjust="spacingAndGlyphs" transform="rotate(-90 262.37 664.50)">(pmol/min/10<tspan font-size="5.6" dy="-2.6">5</tspan><tspan dy="2.6"> cells)</tspan></text>
<rect x="290.05" y="664.40" width="6.50" height="37.80" fill="#c8102e"/>
<rect x="300.65" y="683.10" width="6.50" height="19.10" fill="#1c4f8c"/>
<rect x="311.25" y="664.40" width="6.50" height="37.80" fill="#3cb034"/>
<rect x="321.85" y="657.50" width="6.50" height="44.70" fill="#5a1f6e"/>
<rect x="332.45" y="672.23" width="6.50" height="29.97" fill="#f7931e"/>
<rect x="343.05" y="679.09" width="6.50" height="23.11" fill="#0e6b4b"/>
<rect x="353.65" y="669.69" width="6.50" height="32.51" fill="#9b8dc8"/>
<rect x="364.25" y="680.51" width="6.50" height="21.69" fill="#4b5568"/>
<line x1="293.50" y1="664.40" x2="293.50" y2="658.51" stroke="#231f20" stroke-width="1.0"/>
<line x1="291.70" y1="658.50" x2="294.90" y2="658.50" stroke="#231f20" stroke-width="1.0"/>
<line x1="293.50" y1="664.40" x2="293.50" y2="670.70" stroke="#231f20" stroke-width="1.0"/>
<line x1="291.70" y1="670.50" x2="294.90" y2="670.50" stroke="#231f20" stroke-width="1.0"/>
<line x1="303.50" y1="683.10" x2="303.50" y2="678.32" stroke="#231f20" stroke-width="1.0"/>
<line x1="302.30" y1="678.50" x2="305.50" y2="678.50" stroke="#231f20" stroke-width="1.0"/>
<line x1="303.50" y1="683.10" x2="303.50" y2="687.98" stroke="#231f20" stroke-width="1.0"/>
<line x1="302.30" y1="687.50" x2="305.50" y2="687.50" stroke="#231f20" stroke-width="1.0"/>
<line x1="314.50" y1="664.40" x2="314.50" y2="658.51" stroke="#231f20" stroke-width="1.0"/>
<line x1="312.90" y1="658.50" x2="316.10" y2="658.50" stroke="#231f20" stroke-width="1.0"/>
<line x1="314.50" y1="664.40" x2="314.50" y2="670.70" stroke="#231f20" stroke-width="1.0"/>
<line x1="312.90" y1="670.50" x2="316.10" y2="670.50" stroke="#231f20" stroke-width="1.0"/>
<line x1="325.50" y1="657.50" x2="325.50" y2="648.00" stroke="#231f20" stroke-width="1.0"/>
<line x1="323.50" y1="647.50" x2="326.70" y2="647.50" stroke="#231f20" stroke-width="1.0"/>
<line x1="325.50" y1="657.50" x2="325.50" y2="666.64" stroke="#231f20" stroke-width="1.0"/>
<line x1="323.50" y1="666.50" x2="326.70" y2="666.50" stroke="#231f20" stroke-width="1.0"/>
<line x1="335.50" y1="672.23" x2="335.50" y2="665.12" stroke="#231f20" stroke-width="1.0"/>
<line x1="334.10" y1="665.50" x2="337.30" y2="665.50" stroke="#231f20" stroke-width="1.0"/>
<line x1="335.50" y1="672.23" x2="335.50" y2="679.34" stroke="#231f20" stroke-width="1.0"/>
<line x1="334.10" y1="679.50" x2="337.30" y2="679.50" stroke="#231f20" stroke-width="1.0"/>
<line x1="346.50" y1="679.09" x2="346.50" y2="675.28" stroke="#231f20" stroke-width="1.0"/>
<line x1="344.70" y1="675.50" x2="347.90" y2="675.50" stroke="#231f20" stroke-width="1.0"/>
<line x1="346.50" y1="679.09" x2="346.50" y2="682.90" stroke="#231f20" stroke-width="1.0"/>
<line x1="344.70" y1="682.50" x2="347.90" y2="682.50" stroke="#231f20" stroke-width="1.0"/>
<line x1="356.50" y1="669.69" x2="356.50" y2="665.62" stroke="#231f20" stroke-width="1.0"/>
<line x1="355.30" y1="665.50" x2="358.50" y2="665.50" stroke="#231f20" stroke-width="1.0"/>
<line x1="356.50" y1="669.69" x2="356.50" y2="673.75" stroke="#231f20" stroke-width="1.0"/>
<line x1="355.30" y1="673.50" x2="358.50" y2="673.50" stroke="#231f20" stroke-width="1.0"/>
<line x1="367.50" y1="680.51" x2="367.50" y2="676.29" stroke="#231f20" stroke-width="1.0"/>
<line x1="365.90" y1="676.50" x2="369.10" y2="676.50" stroke="#231f20" stroke-width="1.0"/>
<line x1="367.50" y1="680.51" x2="367.50" y2="684.42" stroke="#231f20" stroke-width="1.0"/>
<line x1="365.90" y1="684.50" x2="369.10" y2="684.50" stroke="#231f20" stroke-width="1.0"/>
<circle cx="293.30" cy="653.94" r="1.75" fill="#111"/>
<circle cx="291.50" cy="658.51" r="1.75" fill="#111"/>
<circle cx="295.10" cy="660.04" r="1.75" fill="#111"/>
<circle cx="292.10" cy="660.54" r="1.75" fill="#111"/>
<circle cx="294.50" cy="664.61" r="1.75" fill="#111"/>
<circle cx="293.30" cy="667.91" r="1.75" fill="#111"/>
<circle cx="291.50" cy="672.23" r="1.75" fill="#111"/>
<circle cx="303.90" cy="670.70" r="1.75" fill="#111"/>
<circle cx="302.10" cy="676.50" r="1.75" fill="#111"/>
<circle cx="305.70" cy="678.32" r="1.75" fill="#111"/>
<circle cx="302.70" cy="681.88" r="1.75" fill="#111"/>
<circle cx="305.10" cy="684.42" r="1.75" fill="#111"/>
<circle cx="303.90" cy="686.96" r="1.75" fill="#111"/>
<circle cx="302.10" cy="689.50" r="1.75" fill="#111"/>
<circle cx="314.50" cy="654.96" r="1.75" fill="#111"/>
<circle cx="312.70" cy="658.00" r="1.75" fill="#111"/>
<circle cx="316.30" cy="659.53" r="1.75" fill="#111"/>
<circle cx="313.30" cy="660.54" r="1.75" fill="#111"/>
<circle cx="315.70" cy="664.61" r="1.75" fill="#111"/>
<circle cx="314.50" cy="668.16" r="1.75" fill="#111"/>
<circle cx="312.70" cy="676.80" r="1.75" fill="#111"/>
<circle cx="325.10" cy="648.35" r="1.75" fill="#111"/>
<circle cx="323.30" cy="648.86" r="1.75" fill="#111"/>
<circle cx="326.90" cy="649.88" r="1.75" fill="#111"/>
<circle cx="323.90" cy="657.50" r="1.75" fill="#111"/>
<circle cx="326.30" cy="663.08" r="1.75" fill="#111"/>
<circle cx="325.10" cy="666.64" r="1.75" fill="#111"/>
<circle cx="335.70" cy="661.81" r="1.75" fill="#111"/>
<circle cx="333.90" cy="662.78" r="1.75" fill="#111"/>
<circle cx="337.50" cy="666.64" r="1.75" fill="#111"/>
<circle cx="334.50" cy="670.70" r="1.75" fill="#111"/>
<circle cx="336.90" cy="674.26" r="1.75" fill="#111"/>
<circle cx="335.70" cy="680.86" r="1.75" fill="#111"/>
<circle cx="333.90" cy="687.98" r="1.75" fill="#111"/>
<circle cx="346.30" cy="675.78" r="1.75" fill="#111"/>
<circle cx="344.50" cy="679.34" r="1.75" fill="#111"/>
<circle cx="348.10" cy="681.88" r="1.75" fill="#111"/>
<circle cx="345.10" cy="684.42" r="1.75" fill="#111"/>
<circle cx="347.50" cy="686.96" r="1.75" fill="#111"/>
<circle cx="346.30" cy="689.50" r="1.75" fill="#111"/>
<circle cx="356.90" cy="662.32" r="1.75" fill="#111"/>
<circle cx="355.10" cy="665.12" r="1.75" fill="#111"/>
<circle cx="358.70" cy="667.66" r="1.75" fill="#111"/>
<circle cx="355.70" cy="670.20" r="1.75" fill="#111"/>
<circle cx="358.10" cy="673.24" r="1.75" fill="#111"/>
<circle cx="356.90" cy="675.53" r="1.75" fill="#111"/>
<circle cx="367.50" cy="672.23" r="1.75" fill="#111"/>
<circle cx="365.70" cy="674.26" r="1.75" fill="#111"/>
<circle cx="369.30" cy="676.29" r="1.75" fill="#111"/>
<circle cx="366.30" cy="679.34" r="1.75" fill="#111"/>
<circle cx="368.70" cy="681.88" r="1.75" fill="#111"/>
<circle cx="367.50" cy="686.45" r="1.75" fill="#111"/>
<line x1="284.90" y1="702.20" x2="373.75" y2="702.20" stroke="#1a1a1a" stroke-width="1.4"/>
<line x1="293.50" y1="702.20" x2="293.50" y2="705.60" stroke="#222" stroke-width="1.0"/>
<line x1="303.50" y1="702.20" x2="303.50" y2="705.60" stroke="#222" stroke-width="1.0"/>
<line x1="314.50" y1="702.20" x2="314.50" y2="705.60" stroke="#222" stroke-width="1.0"/>
<line x1="325.50" y1="702.20" x2="325.50" y2="705.60" stroke="#222" stroke-width="1.0"/>
<line x1="335.50" y1="702.20" x2="335.50" y2="705.60" stroke="#222" stroke-width="1.0"/>
<line x1="346.50" y1="702.20" x2="346.50" y2="705.60" stroke="#222" stroke-width="1.0"/>
<line x1="356.50" y1="702.20" x2="356.50" y2="705.60" stroke="#222" stroke-width="1.0"/>
<line x1="367.50" y1="702.20" x2="367.50" y2="705.60" stroke="#222" stroke-width="1.0"/>
<line x1="314.50" y1="612.50" x2="367.00" y2="612.50" stroke="#333" stroke-width="1.0"/>
<circle cx="340.75" cy="609.50" r="1.25" fill="#2a2a2a"/>
<line x1="325.00" y1="621.50" x2="367.00" y2="621.50" stroke="#333" stroke-width="1.0"/>
<circle cx="346.00" cy="618.50" r="1.25" fill="#2a2a2a"/>
<line x1="325.00" y1="630.50" x2="356.25" y2="630.50" stroke="#333" stroke-width="1.0"/>
<circle cx="339.32" cy="627.00" r="1.25" fill="#2a2a2a"/>
<circle cx="341.93" cy="627.00" r="1.25" fill="#2a2a2a"/>
<line x1="325.00" y1="638.50" x2="345.75" y2="638.50" stroke="#333" stroke-width="1.0"/>
<circle cx="334.07" cy="635.00" r="1.25" fill="#2a2a2a"/>
<circle cx="336.68" cy="635.00" r="1.25" fill="#2a2a2a"/>
<line x1="325.00" y1="644.50" x2="334.25" y2="644.50" stroke="#333" stroke-width="1.0"/>
<circle cx="329.62" cy="642.00" r="1.25" fill="#2a2a2a"/>
<line x1="293.75" y1="641.50" x2="325.50" y2="641.50" stroke="#333" stroke-width="1.0"/>
<circle cx="309.62" cy="638.50" r="1.25" fill="#2a2a2a"/>
<line x1="293.00" y1="647.50" x2="302.50" y2="647.50" stroke="#333" stroke-width="1.0"/>
<circle cx="297.75" cy="645.00" r="1.25" fill="#2a2a2a"/>
<line x1="303.75" y1="652.50" x2="316.25" y2="652.50" stroke="#333" stroke-width="1.0"/>
<circle cx="307.40" cy="650.00" r="1.25" fill="#2a2a2a"/>
<circle cx="310.00" cy="650.00" r="1.25" fill="#2a2a2a"/>
<circle cx="312.60" cy="650.00" r="1.25" fill="#2a2a2a"/>
<text x="283.80" y="715.32" font-size="7.0" text-anchor="end" fill="#333" stroke="#333" stroke-width="0.1" textLength="38.60" lengthAdjust="spacingAndGlyphs">Met (0.1mM)</text>
<line x1="291.80" y1="712.80" x2="294.80" y2="712.80" stroke="#333" stroke-width="0.75"/>
<line x1="293.30" y1="711.30" x2="293.30" y2="714.30" stroke="#333" stroke-width="0.75"/>
<line x1="302.30" y1="712.90" x2="305.50" y2="712.90" stroke="#444" stroke-width="0.75"/>
<line x1="312.90" y1="712.90" x2="316.10" y2="712.90" stroke="#444" stroke-width="0.75"/>
<line x1="323.60" y1="712.80" x2="326.60" y2="712.80" stroke="#333" stroke-width="0.75"/>
<line x1="325.10" y1="711.30" x2="325.10" y2="714.30" stroke="#333" stroke-width="0.75"/>
<line x1="334.20" y1="712.80" x2="337.20" y2="712.80" stroke="#333" stroke-width="0.75"/>
<line x1="335.70" y1="711.30" x2="335.70" y2="714.30" stroke="#333" stroke-width="0.75"/>
<line x1="344.80" y1="712.80" x2="347.80" y2="712.80" stroke="#333" stroke-width="0.75"/>
<line x1="346.30" y1="711.30" x2="346.30" y2="714.30" stroke="#333" stroke-width="0.75"/>
<line x1="355.30" y1="712.90" x2="358.50" y2="712.90" stroke="#444" stroke-width="0.75"/>
<line x1="365.90" y1="712.90" x2="369.10" y2="712.90" stroke="#444" stroke-width="0.75"/>
<text x="283.80" y="725.92" font-size="7.0" text-anchor="end" fill="#333" stroke="#333" stroke-width="0.1" textLength="32.50" lengthAdjust="spacingAndGlyphs">Hcy (1mM)</text>
<line x1="291.70" y1="723.50" x2="294.90" y2="723.50" stroke="#444" stroke-width="0.75"/>
<line x1="302.30" y1="723.50" x2="305.50" y2="723.50" stroke="#444" stroke-width="0.75"/>
<line x1="313.00" y1="723.40" x2="316.00" y2="723.40" stroke="#333" stroke-width="0.75"/>
<line x1="314.50" y1="721.90" x2="314.50" y2="724.90" stroke="#333" stroke-width="0.75"/>
<line x1="323.50" y1="723.50" x2="326.70" y2="723.50" stroke="#444" stroke-width="0.75"/>
<line x1="334.10" y1="723.50" x2="337.30" y2="723.50" stroke="#444" stroke-width="0.75"/>
<line x1="344.70" y1="723.50" x2="347.90" y2="723.50" stroke="#444" stroke-width="0.75"/>
<line x1="355.40" y1="723.40" x2="358.40" y2="723.40" stroke="#333" stroke-width="0.75"/>
<line x1="356.90" y1="721.90" x2="356.90" y2="724.90" stroke="#333" stroke-width="0.75"/>
<line x1="366.00" y1="723.40" x2="369.00" y2="723.40" stroke="#333" stroke-width="0.75"/>
<line x1="367.50" y1="721.90" x2="367.50" y2="724.90" stroke="#333" stroke-width="0.75"/>
<text x="283.80" y="736.52" font-size="7.0" text-anchor="end" fill="#333" stroke="#333" stroke-width="0.1" textLength="38.00" lengthAdjust="spacingAndGlyphs">SETD2i (uM)</text>
<line x1="291.70" y1="734.10" x2="294.90" y2="734.10" stroke="#444" stroke-width="0.75"/>
<line x1="302.30" y1="734.10" x2="305.50" y2="734.10" stroke="#444" stroke-width="0.75"/>
<line x1="312.90" y1="734.10" x2="316.10" y2="734.10" stroke="#444" stroke-width="0.75"/>
<line x1="323.50" y1="734.10" x2="326.70" y2="734.10" stroke="#444" stroke-width="0.75"/>
<text x="335.70" y="736.45" font-size="6.8" text-anchor="middle" fill="#333" stroke="#333" stroke-width="0.22">10</text>
<text x="346.30" y="736.45" font-size="6.8" text-anchor="middle" fill="#333" stroke="#333" stroke-width="0.22">50</text>
<text x="356.90" y="736.45" font-size="6.8" text-anchor="middle" fill="#333" stroke="#333" stroke-width="0.22">10</text>
<text x="367.50" y="736.45" font-size="6.8" text-anchor="middle" fill="#333" stroke="#333" stroke-width="0.22">50</text>
<text x="283.80" y="747.02" font-size="7.0" text-anchor="end" fill="#333" stroke="#333" stroke-width="0.1" textLength="21.30" lengthAdjust="spacingAndGlyphs">Vehicle</text>
<line x1="291.70" y1="744.60" x2="294.90" y2="744.60" stroke="#444" stroke-width="0.75"/>
<line x1="302.30" y1="744.60" x2="305.50" y2="744.60" stroke="#444" stroke-width="0.75"/>
<line x1="312.90" y1="744.60" x2="316.10" y2="744.60" stroke="#444" stroke-width="0.75"/>
<line x1="323.60" y1="744.50" x2="326.60" y2="744.50" stroke="#333" stroke-width="0.75"/>
<line x1="325.10" y1="743.00" x2="325.10" y2="746.00" stroke="#333" stroke-width="0.75"/>
<line x1="334.20" y1="744.50" x2="337.20" y2="744.50" stroke="#333" stroke-width="0.75"/>
<line x1="335.70" y1="743.00" x2="335.70" y2="746.00" stroke="#333" stroke-width="0.75"/>
<line x1="344.80" y1="744.50" x2="347.80" y2="744.50" stroke="#333" stroke-width="0.75"/>
<line x1="346.30" y1="743.00" x2="346.30" y2="746.00" stroke="#333" stroke-width="0.75"/>
<line x1="355.40" y1="744.50" x2="358.40" y2="744.50" stroke="#333" stroke-width="0.75"/>
<line x1="356.90" y1="743.00" x2="356.90" y2="746.00" stroke="#333" stroke-width="0.75"/>
<line x1="366.00" y1="744.50" x2="369.00" y2="744.50" stroke="#333" stroke-width="0.75"/>
<line x1="367.50" y1="743.00" x2="367.50" y2="746.00" stroke="#333" stroke-width="0.75"/>
<text x="384.19" y="615.20" font-size="11.4" font-weight="bold" fill="#111" stroke="#111" stroke-width="0.3" textLength="7.73" lengthAdjust="spacingAndGlyphs">R</text>
<line x1="431.00" y1="628.20" x2="431.00" y2="706.80" stroke="#222" stroke-width="1.25"/>
<line x1="428.50" y1="706.50" x2="431.00" y2="706.50" stroke="#222" stroke-width="1.0"/>
<line x1="428.50" y1="681.50" x2="431.00" y2="681.50" stroke="#222" stroke-width="1.0"/>
<line x1="428.50" y1="655.50" x2="431.00" y2="655.50" stroke="#222" stroke-width="1.0"/>
<line x1="428.50" y1="630.50" x2="431.00" y2="630.50" stroke="#222" stroke-width="1.0"/>
<text x="425.30" y="708.89" font-size="7.2" text-anchor="end" fill="#333" stroke="#333" stroke-width="0.15" textLength="9.00" lengthAdjust="spacingAndGlyphs">0.0</text>
<text x="425.30" y="683.59" font-size="7.2" text-anchor="end" fill="#333" stroke="#333" stroke-width="0.15" textLength="9.00" lengthAdjust="spacingAndGlyphs">0.5</text>
<text x="425.30" y="658.29" font-size="7.2" text-anchor="end" fill="#333" stroke="#333" stroke-width="0.15" textLength="9.00" lengthAdjust="spacingAndGlyphs">1.0</text>
<text x="425.30" y="632.99" font-size="7.2" text-anchor="end" fill="#333" stroke="#333" stroke-width="0.15" textLength="9.00" lengthAdjust="spacingAndGlyphs">1.5</text>
<text x="399.71" y="668.20" font-size="8.2" text-anchor="middle" fill="#333" stroke="#333" stroke-width="0.12" textLength="28.80" lengthAdjust="spacingAndGlyphs" transform="rotate(-90 399.71 668.20)">Max OCR</text>
<text x="411.07" y="668.70" font-size="8.4" text-anchor="middle" fill="#333" stroke="#333" stroke-width="0.12" textLength="68.30" lengthAdjust="spacingAndGlyphs" transform="rotate(-90 411.07 668.70)">(pmol/min/10<tspan font-size="5.6" dy="-2.6">5</tspan><tspan dy="2.6"> cells)</tspan></text>
<rect x="436.05" y="655.70" width="6.50" height="50.60" fill="#c8102e"/>
<rect x="446.65" y="675.43" width="6.50" height="30.87" fill="#1c4f8c"/>
<rect x="457.25" y="659.75" width="6.50" height="46.55" fill="#3cb034"/>
<rect x="467.85" y="656.21" width="6.50" height="50.09" fill="#5a1f6e"/>
<rect x="478.45" y="670.88" width="6.50" height="35.42" fill="#f7931e"/>
<rect x="489.05" y="684.04" width="6.50" height="22.26" fill="#0e6b4b"/>
<rect x="499.65" y="664.81" width="6.50" height="41.49" fill="#9b8dc8"/>
<rect x="510.25" y="671.89" width="6.50" height="34.41" fill="#4b5568"/>
<line x1="439.50" y1="655.70" x2="439.50" y2="652.66" stroke="#231f20" stroke-width="1.0"/>
<line x1="437.70" y1="652.50" x2="440.90" y2="652.50" stroke="#231f20" stroke-width="1.0"/>
<line x1="439.50" y1="655.70" x2="439.50" y2="659.24" stroke="#231f20" stroke-width="1.0"/>
<line x1="437.70" y1="659.50" x2="440.90" y2="659.50" stroke="#231f20" stroke-width="1.0"/>
<line x1="449.50" y1="675.43" x2="449.50" y2="669.87" stroke="#231f20" stroke-width="1.0"/>
<line x1="448.30" y1="669.50" x2="451.50" y2="669.50" stroke="#231f20" stroke-width="1.0"/>
<line x1="449.50" y1="675.43" x2="449.50" y2="681.00" stroke="#231f20" stroke-width="1.0"/>
<line x1="448.30" y1="681.50" x2="451.50" y2="681.50" stroke="#231f20" stroke-width="1.0"/>
<line x1="460.50" y1="659.75" x2="460.50" y2="648.11" stroke="#231f20" stroke-width="1.0"/>
<line x1="458.90" y1="648.50" x2="462.10" y2="648.50" stroke="#231f20" stroke-width="1.0"/>
<line x1="460.50" y1="659.75" x2="460.50" y2="669.87" stroke="#231f20" stroke-width="1.0"/>
<line x1="458.90" y1="669.50" x2="462.10" y2="669.50" stroke="#231f20" stroke-width="1.0"/>
<line x1="471.50" y1="656.21" x2="471.50" y2="652.66" stroke="#231f20" stroke-width="1.0"/>
<line x1="469.50" y1="652.50" x2="472.70" y2="652.50" stroke="#231f20" stroke-width="1.0"/>
<line x1="471.50" y1="656.21" x2="471.50" y2="660.76" stroke="#231f20" stroke-width="1.0"/>
<line x1="469.50" y1="660.50" x2="472.70" y2="660.50" stroke="#231f20" stroke-width="1.0"/>
<line x1="481.50" y1="670.88" x2="481.50" y2="665.82" stroke="#231f20" stroke-width="1.0"/>
<line x1="480.10" y1="665.50" x2="483.30" y2="665.50" stroke="#231f20" stroke-width="1.0"/>
<line x1="481.50" y1="670.88" x2="481.50" y2="675.94" stroke="#231f20" stroke-width="1.0"/>
<line x1="480.10" y1="675.50" x2="483.30" y2="675.50" stroke="#231f20" stroke-width="1.0"/>
<line x1="492.50" y1="684.04" x2="492.50" y2="678.47" stroke="#231f20" stroke-width="1.0"/>
<line x1="490.70" y1="678.50" x2="493.90" y2="678.50" stroke="#231f20" stroke-width="1.0"/>
<line x1="492.50" y1="684.04" x2="492.50" y2="689.60" stroke="#231f20" stroke-width="1.0"/>
<line x1="490.70" y1="689.50" x2="493.90" y2="689.50" stroke="#231f20" stroke-width="1.0"/>
<line x1="502.50" y1="664.81" x2="502.50" y2="658.74" stroke="#231f20" stroke-width="1.0"/>
<line x1="501.30" y1="658.50" x2="504.50" y2="658.50" stroke="#231f20" stroke-width="1.0"/>
<line x1="502.50" y1="664.81" x2="502.50" y2="669.87" stroke="#231f20" stroke-width="1.0"/>
<line x1="501.30" y1="669.50" x2="504.50" y2="669.50" stroke="#231f20" stroke-width="1.0"/>
<line x1="513.50" y1="671.89" x2="513.50" y2="667.84" stroke="#231f20" stroke-width="1.0"/>
<line x1="511.90" y1="667.50" x2="515.10" y2="667.50" stroke="#231f20" stroke-width="1.0"/>
<line x1="513.50" y1="671.89" x2="513.50" y2="675.94" stroke="#231f20" stroke-width="1.0"/>
<line x1="511.90" y1="675.50" x2="515.10" y2="675.50" stroke="#231f20" stroke-width="1.0"/>
<circle cx="439.30" cy="651.15" r="1.75" fill="#111"/>
<circle cx="437.50" cy="652.66" r="1.75" fill="#111"/>
<circle cx="441.10" cy="654.18" r="1.75" fill="#111"/>
<circle cx="438.10" cy="655.70" r="1.75" fill="#111"/>
<circle cx="440.50" cy="656.71" r="1.75" fill="#111"/>
<circle cx="439.30" cy="658.74" r="1.75" fill="#111"/>
<circle cx="449.90" cy="664.30" r="1.75" fill="#111"/>
<circle cx="448.10" cy="670.37" r="1.75" fill="#111"/>
<circle cx="451.70" cy="673.92" r="1.75" fill="#111"/>
<circle cx="448.70" cy="675.94" r="1.75" fill="#111"/>
<circle cx="451.10" cy="679.99" r="1.75" fill="#111"/>
<circle cx="449.90" cy="683.53" r="1.75" fill="#111"/>
<circle cx="460.50" cy="642.54" r="1.75" fill="#111"/>
<circle cx="458.70" cy="648.11" r="1.75" fill="#111"/>
<circle cx="462.30" cy="657.22" r="1.75" fill="#111"/>
<circle cx="459.30" cy="661.77" r="1.75" fill="#111"/>
<circle cx="461.70" cy="666.83" r="1.75" fill="#111"/>
<circle cx="460.50" cy="687.58" r="1.75" fill="#111"/>
<circle cx="471.10" cy="651.65" r="1.75" fill="#111"/>
<circle cx="469.30" cy="653.68" r="1.75" fill="#111"/>
<circle cx="472.90" cy="655.70" r="1.75" fill="#111"/>
<circle cx="469.90" cy="657.22" r="1.75" fill="#111"/>
<circle cx="472.30" cy="660.76" r="1.75" fill="#111"/>
<circle cx="471.10" cy="664.30" r="1.75" fill="#111"/>
<circle cx="481.70" cy="661.27" r="1.75" fill="#111"/>
<circle cx="479.90" cy="665.82" r="1.75" fill="#111"/>
<circle cx="483.50" cy="667.34" r="1.75" fill="#111"/>
<circle cx="480.50" cy="668.86" r="1.75" fill="#111"/>
<circle cx="482.90" cy="675.94" r="1.75" fill="#111"/>
<circle cx="481.70" cy="686.06" r="1.75" fill="#111"/>
<circle cx="492.30" cy="669.87" r="1.75" fill="#111"/>
<circle cx="490.50" cy="677.46" r="1.75" fill="#111"/>
<circle cx="494.10" cy="681.00" r="1.75" fill="#111"/>
<circle cx="491.10" cy="683.02" r="1.75" fill="#111"/>
<circle cx="493.50" cy="687.07" r="1.75" fill="#111"/>
<circle cx="492.30" cy="692.64" r="1.75" fill="#111"/>
<circle cx="502.90" cy="653.68" r="1.75" fill="#111"/>
<circle cx="501.10" cy="659.75" r="1.75" fill="#111"/>
<circle cx="504.70" cy="661.77" r="1.75" fill="#111"/>
<circle cx="501.70" cy="665.82" r="1.75" fill="#111"/>
<circle cx="504.10" cy="668.35" r="1.75" fill="#111"/>
<circle cx="502.90" cy="673.41" r="1.75" fill="#111"/>
<circle cx="513.50" cy="665.82" r="1.75" fill="#111"/>
<circle cx="511.70" cy="668.35" r="1.75" fill="#111"/>
<circle cx="515.30" cy="670.88" r="1.75" fill="#111"/>
<circle cx="512.30" cy="674.42" r="1.75" fill="#111"/>
<circle cx="514.70" cy="676.95" r="1.75" fill="#111"/>
<circle cx="513.50" cy="680.49" r="1.75" fill="#111"/>
<line x1="430.40" y1="706.30" x2="518.00" y2="706.30" stroke="#1a1a1a" stroke-width="1.4"/>
<line x1="439.50" y1="706.30" x2="439.50" y2="709.70" stroke="#222" stroke-width="1.0"/>
<line x1="449.50" y1="706.30" x2="449.50" y2="709.70" stroke="#222" stroke-width="1.0"/>
<line x1="460.50" y1="706.30" x2="460.50" y2="709.70" stroke="#222" stroke-width="1.0"/>
<line x1="471.50" y1="706.30" x2="471.50" y2="709.70" stroke="#222" stroke-width="1.0"/>
<line x1="481.50" y1="706.30" x2="481.50" y2="709.70" stroke="#222" stroke-width="1.0"/>
<line x1="492.50" y1="706.30" x2="492.50" y2="709.70" stroke="#222" stroke-width="1.0"/>
<line x1="502.50" y1="706.30" x2="502.50" y2="709.70" stroke="#222" stroke-width="1.0"/>
<line x1="513.50" y1="706.30" x2="513.50" y2="709.70" stroke="#222" stroke-width="1.0"/>
<line x1="458.75" y1="611.50" x2="511.75" y2="611.50" stroke="#333" stroke-width="1.0"/>
<text x="485.25" y="607.53" font-size="7.8" text-anchor="middle" fill="#231f20" stroke="#231f20" stroke-width="0.12" textLength="8.00" lengthAdjust="spacingAndGlyphs">ns</text>
<line x1="470.00" y1="619.50" x2="511.75" y2="619.50" stroke="#333" stroke-width="1.0"/>
<circle cx="489.57" cy="616.80" r="1.25" fill="#2a2a2a"/>
<circle cx="492.18" cy="616.80" r="1.25" fill="#2a2a2a"/>
<line x1="470.00" y1="629.50" x2="502.00" y2="629.50" stroke="#333" stroke-width="1.0"/>
<text x="486.00" y="626.83" font-size="7.8" text-anchor="middle" fill="#231f20" stroke="#231f20" stroke-width="0.12" textLength="8.00" lengthAdjust="spacingAndGlyphs">ns</text>
<line x1="470.00" y1="638.50" x2="492.00" y2="638.50" stroke="#333" stroke-width="1.0"/>
<circle cx="479.70" cy="635.30" r="1.25" fill="#2a2a2a"/>
<circle cx="482.30" cy="635.30" r="1.25" fill="#2a2a2a"/>
<line x1="470.00" y1="648.50" x2="481.25" y2="648.50" stroke="#333" stroke-width="1.0"/>
<text x="475.62" y="647.25" font-size="6.8" text-anchor="middle" fill="#231f20" stroke="#231f20" stroke-width="0.12" textLength="13.00" lengthAdjust="spacingAndGlyphs">0.05</text>
<line x1="448.75" y1="639.50" x2="462.50" y2="639.50" stroke="#333" stroke-width="1.0"/>
<text x="455.62" y="638.75" font-size="6.8" text-anchor="middle" fill="#231f20" stroke="#231f20" stroke-width="0.12" textLength="12.50" lengthAdjust="spacingAndGlyphs">0.05</text>
<line x1="438.75" y1="647.50" x2="451.25" y2="647.50" stroke="#333" stroke-width="1.0"/>
<circle cx="443.70" cy="644.50" r="1.25" fill="#2a2a2a"/>
<circle cx="446.30" cy="644.50" r="1.25" fill="#2a2a2a"/>
<text x="429.80" y="719.72" font-size="7.0" text-anchor="end" fill="#333" stroke="#333" stroke-width="0.1" textLength="39.60" lengthAdjust="spacingAndGlyphs">Met (0.1mM)</text>
<line x1="437.80" y1="717.20" x2="440.80" y2="717.20" stroke="#333" stroke-width="0.75"/>
<line x1="439.30" y1="715.70" x2="439.30" y2="718.70" stroke="#333" stroke-width="0.75"/>
<line x1="448.30" y1="717.30" x2="451.50" y2="717.30" stroke="#444" stroke-width="0.75"/>
<line x1="458.90" y1="717.30" x2="462.10" y2="717.30" stroke="#444" stroke-width="0.75"/>
<line x1="469.60" y1="717.20" x2="472.60" y2="717.20" stroke="#333" stroke-width="0.75"/>
<line x1="471.10" y1="715.70" x2="471.10" y2="718.70" stroke="#333" stroke-width="0.75"/>
<line x1="480.20" y1="717.20" x2="483.20" y2="717.20" stroke="#333" stroke-width="0.75"/>
<line x1="481.70" y1="715.70" x2="481.70" y2="718.70" stroke="#333" stroke-width="0.75"/>
<line x1="490.80" y1="717.20" x2="493.80" y2="717.20" stroke="#333" stroke-width="0.75"/>
<line x1="492.30" y1="715.70" x2="492.30" y2="718.70" stroke="#333" stroke-width="0.75"/>
<line x1="501.30" y1="717.30" x2="504.50" y2="717.30" stroke="#444" stroke-width="0.75"/>
<line x1="511.90" y1="717.30" x2="515.10" y2="717.30" stroke="#444" stroke-width="0.75"/>
<text x="429.80" y="730.52" font-size="7.0" text-anchor="end" fill="#333" stroke="#333" stroke-width="0.1" textLength="33.50" lengthAdjust="spacingAndGlyphs">Hcy (1mM)</text>
<line x1="437.70" y1="728.10" x2="440.90" y2="728.10" stroke="#444" stroke-width="0.75"/>
<line x1="448.30" y1="728.10" x2="451.50" y2="728.10" stroke="#444" stroke-width="0.75"/>
<line x1="459.00" y1="728.00" x2="462.00" y2="728.00" stroke="#333" stroke-width="0.75"/>
<line x1="460.50" y1="726.50" x2="460.50" y2="729.50" stroke="#333" stroke-width="0.75"/>
<line x1="469.50" y1="728.10" x2="472.70" y2="728.10" stroke="#444" stroke-width="0.75"/>
<line x1="480.10" y1="728.10" x2="483.30" y2="728.10" stroke="#444" stroke-width="0.75"/>
<line x1="490.70" y1="728.10" x2="493.90" y2="728.10" stroke="#444" stroke-width="0.75"/>
<line x1="501.40" y1="728.00" x2="504.40" y2="728.00" stroke="#333" stroke-width="0.75"/>
<line x1="502.90" y1="726.50" x2="502.90" y2="729.50" stroke="#333" stroke-width="0.75"/>
<line x1="512.00" y1="728.00" x2="515.00" y2="728.00" stroke="#333" stroke-width="0.75"/>
<line x1="513.50" y1="726.50" x2="513.50" y2="729.50" stroke="#333" stroke-width="0.75"/>
<text x="429.80" y="741.22" font-size="7.0" text-anchor="end" fill="#333" stroke="#333" stroke-width="0.1" textLength="38.50" lengthAdjust="spacingAndGlyphs">SETD2i (uM)</text>
<line x1="437.70" y1="738.80" x2="440.90" y2="738.80" stroke="#444" stroke-width="0.75"/>
<line x1="448.30" y1="738.80" x2="451.50" y2="738.80" stroke="#444" stroke-width="0.75"/>
<line x1="458.90" y1="738.80" x2="462.10" y2="738.80" stroke="#444" stroke-width="0.75"/>
<line x1="469.50" y1="738.80" x2="472.70" y2="738.80" stroke="#444" stroke-width="0.75"/>
<text x="481.70" y="741.15" font-size="6.8" text-anchor="middle" fill="#333" stroke="#333" stroke-width="0.22">10</text>
<text x="492.30" y="741.15" font-size="6.8" text-anchor="middle" fill="#333" stroke="#333" stroke-width="0.22">50</text>
<text x="502.90" y="741.15" font-size="6.8" text-anchor="middle" fill="#333" stroke="#333" stroke-width="0.22">10</text>
<text x="513.50" y="741.15" font-size="6.8" text-anchor="middle" fill="#333" stroke="#333" stroke-width="0.22">50</text>
<text x="429.80" y="751.72" font-size="7.0" text-anchor="end" fill="#333" stroke="#333" stroke-width="0.1" textLength="26.30" lengthAdjust="spacingAndGlyphs">Vehicle</text>
<line x1="437.70" y1="749.30" x2="440.90" y2="749.30" stroke="#444" stroke-width="0.75"/>
<line x1="448.30" y1="749.30" x2="451.50" y2="749.30" stroke="#444" stroke-width="0.75"/>
<line x1="458.90" y1="749.30" x2="462.10" y2="749.30" stroke="#444" stroke-width="0.75"/>
<line x1="469.60" y1="749.20" x2="472.60" y2="749.20" stroke="#333" stroke-width="0.75"/>
<line x1="471.10" y1="747.70" x2="471.10" y2="750.70" stroke="#333" stroke-width="0.75"/>
<line x1="480.20" y1="749.20" x2="483.20" y2="749.20" stroke="#333" stroke-width="0.75"/>
<line x1="481.70" y1="747.70" x2="481.70" y2="750.70" stroke="#333" stroke-width="0.75"/>
<line x1="490.80" y1="749.20" x2="493.80" y2="749.20" stroke="#333" stroke-width="0.75"/>
<line x1="492.30" y1="747.70" x2="492.30" y2="750.70" stroke="#333" stroke-width="0.75"/>
<line x1="501.40" y1="749.20" x2="504.40" y2="749.20" stroke="#333" stroke-width="0.75"/>
<line x1="502.90" y1="747.70" x2="502.90" y2="750.70" stroke="#333" stroke-width="0.75"/>
<line x1="512.00" y1="749.20" x2="515.00" y2="749.20" stroke="#333" stroke-width="0.75"/>
<line x1="513.50" y1="747.70" x2="513.50" y2="750.70" stroke="#333" stroke-width="0.75"/>
</svg></body></html>
